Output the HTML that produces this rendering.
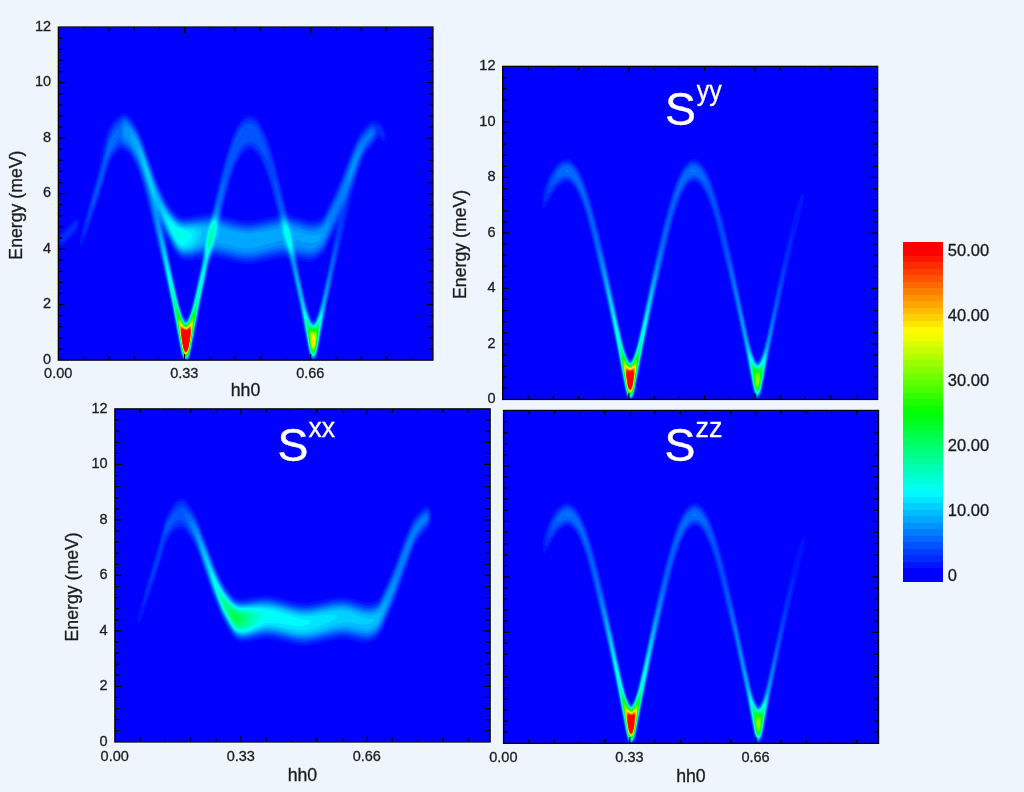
<!DOCTYPE html>
<html lang="en"><head><meta charset="utf-8"><title>Spin-wave spectra S(hh0, E)</title>
<style>html,body{margin:0;padding:0;background:#eef5fc;overflow:hidden}svg{display:block}text{font-family:"Liberation Sans", Arial, Helvetica, sans-serif}.t,.a,.c{fill:#1c1c1c;stroke:#1c1c1c;stroke-width:.3px}.t{font-size:14.5px}.c{font-size:16.5px}.a{font-size:17.7px}.S{font-size:46.3px;fill:#fff;stroke:#fff;stroke-width:.45px}.sup{font-size:28px;fill:#fff;stroke:#fff;stroke-width:.3px}</style></head>
<body><svg width="1024" height="792" viewBox="0 0 1024 792">
<defs><filter id="soft" x="-5%" y="-5%" width="110%" height="110%" color-interpolation-filters="sRGB"><feGaussianBlur stdDeviation="6"/></filter></defs>
<rect width="1024" height="792" fill="#eef5fc"/>
<g>
<clipPath id="c1"><rect x="0" y="0" width="3743" height="3328"/></clipPath>
<rect x="58.5" y="27.2" width="374.3" height="332.8" fill="#0000ff"/>
<g transform="translate(58.5 27.2) scale(.1)" clip-path="url(#c1)"><g filter="url(#soft)">
<path fill="#0015ff" d="M1238 3328h71l9-25l19-85l83-424l90-404l15-52l10-20l10-10l15-3l25 3l47 10l163 42l40 7l45 4l50-2l55-8l164-38l71-13l45-3l10 3l10 7l10 15l10 25l20 79l80 360l83 422l14 65l16 45h57l13-35l15-60l87-452l115-526l125-543l30-115l40-134l35-105l25-58l20-34l30-43l55-65l25-46l5-4l10 1l10 6l25 22l10 5l10-1l5-6l5-12l3-20v-20l-4-25l-5-20l-8-20l-13-25l-13-20l-15-16l-10-6l-25-6l-25-11h-10l-15 4l-20 12l-26 23l-41 45l-27 35l-32 55l-41 90l-46 110l-77 203l-40 95l-50 108l-70 140l-20 31l-10 11l-15 12l-20 10l-20 7l-20 4l-20 1l-25-2l-35-7l-100-30l-50-14l-15-7l-15-18l-10-22l-10-34l-57-243l-56-215l-29-105l-30-90l-41-100l-19-40l-20-35l-21-30l-17-20l-20-19l-20-12l-25-8h-25l-25 10l-25 18l-25 27l-24 34l-23 40l-26 55l-39 100l-35 110l-66 245l-67 281l-10 30l-10 19l-10 9l-10 4l-60 5l-120 20l-50 4h-30l-20-4l-20-10l-18-13l-27-28l-30-37l-25-34l-25-42l-40-80l-45-105l-137-384l-31-80l-21-45l-24-45l-24-40l-20-30l-23-27l-20-16l-20-10l-20-2l-20 7l-30 20l-25 21l-21 22l-33 45l-29 50l-25 60l-25 75l-14 65l-23 158l-20 96l-15 57l-78 264l-64 245l-9 45l-3 35l-1 30l4 20l6 10l5 1l10-9l20-38l23-59l134-400l41-130l42-151l20-52l15-26l25-34l25-28l20-16l15-7l10-1l15 3l20 8l21 14l24 25l25 37l25 47l20 45l25 66l20 61l25 86l60 235l130 543l90 407l88 448l10 40zM1270 2904l-5-3l-10-15l-15-36l-15-48l-20-77l-65-295l-35-174l-14-83l1-15l3-3l15 19l38 64l27 40l25 28l25 18l25 10l25 4l50-4l80-16l10 2l5 10v25l-10 58l-60 275l-20 84l-20 68l-15 39l-10 18l-5 5l-5 3zM1860 1933l-39-5l-46-9l-111-31l-9-5l-8-10l-3-10v-20l6-36l10-42l50-189l35-110l35-89l35-69l20-30l15-18l20-17l15-9l15-4l15-1l18 4l17 9l15 12l15 16l20 28l15 24l35 73l40 108l35 116l45 174l8 40l1 25l-4 15l-5 6l-5 4l-16 5l-129 30l-53 10l-57 6zM2545 2919l-10-8l-15-27l-15-41l-20-70l-80-364l-6-41l1-25l5-9l10-1l70 13l25 2l20-1l30-8l30-17l40-33l27-31l20-35l48-99l10-18l10-13l5 3v17l-10 61l-50 243l-75 334l-20 73l-20 58l-15 28l-10 8zM24 2183l11-1l10-5l20-15l25-22l45-47l35-40l15-21l13-29l3-20l2-20l-2-20l-4-15l-5-10l-7-6h-10l-15 11l-60 66l-35 33l-36 31l-14 16l-7 14l-4 15l-3 20v20l3 20l6 14l5 6z"/>
<path fill="#002aff" d="M1245 3328h57l16-45l14-65l83-428l80-367l15-64l10-34l10-23l10-14l5-4l10-4l25 1l56 12l159 41l50 8l45 3l45-3l45-6l190-44l50-9l35-2h10l10 4l15 14l15 30l15 51l90 408l82 425l16 65l10 30l11 20h35l9-15l10-25l15-60l92-481l193-914l22-95l20-76l45-150l40-123l25-68l25-52l20-33l25-35l55-65l10-18l15-35l5-7l5-2l10 2l35 23l5 1l5-2l2-5l2-20l-7-30l-14-30l-18-23l-10-6l-20-3l-30-20l-10-1l-15 4l-20 13l-25 23l-40 44l-25 32l-17 27l-17 30l-38 85l-45 110l-78 205l-40 95l-50 107l-75 148l-15 23l-10 12l-25 19l-35 14l-20 3l-20 1l-30-3l-35-7l-145-43l-10-4l-10-8l-15-20l-14-32l-11-38l-64-262l-53-205l-27-90l-26-80l-38-95l-37-71l-20-31l-19-23l-16-15l-20-13l-20-8l-25-1l-25 8l-25 17l-25 27l-22 30l-26 45l-24 50l-39 100l-36 115l-61 225l-67 275l-10 35l-15 31l-15 16l-15 5l-60 6l-116 17l-49 4l-30-1l-20-4l-20-9l-20-15l-25-25l-35-43l-25-35l-25-41l-45-91l-40-94l-30-81l-103-295l-29-75l-20-45l-21-40l-23-40l-24-36l-20-25l-20-19l-20-12l-20-4l-15 4l-15 9l-35 27l-26 26l-26 35l-26 45l-20 45l-14 45l-11 45l-32 155l-40 166l-78 269l-52 200l-20 95l-3 30l1 15l2 4l5-1l15-23l15-35l25-68l102-297l45-145l38-138l10-31l15-37l15-27l25-35l25-28l22-19l13-7l10-1l10 2l30 13l25 16l25 28l25 37l25 47l25 56l20 53l25 76l25 87l60 239l125 534l90 413l82 427l15 60zM1270 2918l-7-5l-8-11l-15-34l-20-61l-20-78l-70-316l-45-219l-12-71l-1-15l3-11l5 3l10 13l58 100l26 40l21 25l25 20l25 12l30 5l50-4l90-20l10 4l5 10v33l-10 59l-65 296l-20 83l-20 69l-15 40l-15 27l-8 6zM1865 1958l-42-5l-48-10l-125-35l-10-8l-5-8l-3-14l-1-20l4-29l10-46l55-214l35-113l35-91l35-72l20-32l18-23l17-16l20-14l15-5l20-2l15 3l20 10l20 15l17 19l18 24l20 34l35 74l38 103l37 125l50 197l7 38l1 25l-3 20l-5 10l-10 8l-10 3l-145 34l-50 9l-55 6zM2545 2934l-10-6l-5-6l-15-30l-15-42l-20-70l-20-85l-65-298l-7-49l1-30l1-5l5-7l10-3l80 16l30 2l20-2l15-3l20-9l40-28l30-28l20-28l90-183l15-25l5-6l5-2l4 11l-1 15l-13 75l-70 323l-75 328l-25 89l-20 53l-15 26l-8 6zM25 2148l5 2l10-1l10-6l20-16l45-43l50-58l14-23l6-18l1-22l-6-14l-5-2l-5 1l-10 7l-55 60l-75 69l-10 19l-3 15l2 20z"/>
<path fill="#003eff" d="M1251 3328h45l7-15l9-25l20-85l83-432l90-413l10-36l15-36l15-19l10-5l10-2l25 3l40 9l165 43l45 7l40 3l45-2l55-7l180-42l65-11l25-2l15 1l10 4l10 9l15 24l10 24l20 74l85 393l77 403l16 70l13 40l13 20l8 5h9l9-6l9-14l9-20l9-30l10-45l78-416l52-249l68-342l25-136l23-152l18-80l29-105l35-115l70-215l35-96l20-43l20-35l35-49l49-57l15-30l10-35l3-30l-4-15l-5-10l-13-17l-10-5l-15 1l-15 7l-20 17l-25 25l-45 53l-15 21l-17 28l-29 60l-36 85l-98 257l-40 96l-60 128l-60 119l-20 35l-20 25l-25 18l-35 13l-35 5l-30-2l-35-7l-150-45l-10-5l-10-8l-20-28l-14-31l-12-35l-64-254l-50-188l-35-120l-30-88l-35-86l-35-66l-15-23l-20-24l-18-16l-17-11l-20-6l-25 1l-25 10l-20 15l-20 21l-25 35l-20 35l-25 51l-35 88l-35 106l-65 235l-70 280l-15 44l-15 29l-15 16l-15 6l-60 5l-115 15l-50 4l-30-1l-20-4l-20-9l-21-15l-29-30l-35-43l-25-35l-25-43l-45-91l-40-94l-127-359l-35-90l-20-45l-21-40l-24-40l-20-30l-23-27l-20-18l-20-10l-15-2l-10 2l-14 10l-46 40l-20 22l-25 35l-20 35l-15 34l-13 39l-15 60l-32 146l-23 94l-31 115l-56 191l-25 95l-25 113l-2 31l2 3l5-6l15-32l75-205l60-187l47-168l20-55l13-26l15-24l20-28l20-23l15-15l15-11l15-5l10 3l45 23l20 15l25 28l25 39l30 57l25 58l25 69l30 98l30 110l30 123l120 522l100 462l87 450l11 45zM1265 2924l-5-5l-10-16l-15-36l-20-64l-20-78l-70-314l-55-264l-11-64l-1-20l2-10l5 1l10 13l68 121l27 43l25 31l25 21l30 12l30 4l25-2l30-5l85-20l10 3l5 8l3 15v15l-8 57l-75 340l-20 81l-20 66l-20 50l-10 14l-5 5l-5 2zM1840 1973l-78-15l-102-28l-18-7l-11-10l-6-14l-3-21l1-25l7-40l13-60l54-210l36-115l35-90l35-70l19-30l18-23l15-15l20-14l20-8l20-2l20 5l20 10l20 16l20 22l17 24l21 35l20 40l20 45l39 110l40 140l44 185l7 40v30l-3 20l-7 15l-8 8l-15 6l-150 34l-60 11l-60 5zM2545 2944l-5-2l-10-9l-15-28l-20-56l-20-70l-85-379l-10-65l-1-22l3-15l3-9l5-5l10-2l85 17l30 2l20-2l15-3l20-9l20-13l25-20l25-24l20-30l110-228l15-24l10-11l5-2l5 4l3 14l-1 20l-5 30l-62 255l-115 501l-25 89l-20 55l-10 21l-10 14l-8 5z"/>
<path fill="#0053ff" d="M1256 3328h35l11-20l10-30l16-65l82-432l95-440l15-47l15-29l15-16l10-4l10-1l60 11l165 42l45 8l40 2l50-2l50-7l175-41l65-12l25-2l15 1l10 4l10 7l15 21l15 31l10 29l11 42l84 394l78 411l15 70l13 40l12 20l7 6l5 2h5l10-7l10-16l8-20l10-35l9-45l73-395l51-250l44-232l20-123l3-35v-15l-3-4l-10 22l-25 85l-115 484l-25 93l-20 61l-15 35l-15 22l-10 6h-5l-10-5l-10-13l-10-19l-20-54l-20-68l-20-82l-71-318l-10-65l-1-25l2-20l7-15l3-3l10-3l65 14l35 6h30l25-5l30-15l33-24l22-22l20-28l18-35l107-229l20-36l33-45l17-36l21-59l124-370l23-65l21-50l16-30l22-35l30-40l39-45l14-24l7-26l1-25l-4-20l-9-15l-10-4l-10 1l-15 8l-20 16l-70 80l-15 20l-15 25l-25 51l-31 73l-35 90l-71 190l-51 120l-45 95l-72 139l-20 32l-20 21l-25 15l-30 11l-30 4l-30-1l-52-11l-128-38l-15-6l-15-13l-15-19l-12-19l-15-30l-9-25l-69-236l-25-76l-15-39v17l58 279l8 50l2 30v25l-4 25l-8 20l-7 10l-14 7l-143 33l-82 15l-65 5l-50-4l-50-9l-65-16l-85-25l-10-7l-10-17l-4-22l-1-30l9-60l39-170l29-115l30-100l31-85l30-65l28-50l19-25l15-17l15-13l15-9l15-6l15-3h15l20 5l30 16l29 27l32 40l32 50l47 86v-8l-5-24l-25-96l-20-64l-25-68l-20-44l-20-36l-22-31l-23-22l-14-8l-11-4l-20-2l-24 6l-21 13l-20 19l-25 33l-20 33l-25 50l-35 85l-35 103l-65 225l-76 289l-17 45l-17 31l-15 16l-10 6l-10 2l-60 5l-115 14l-45 3l-30-2l-23-5l-20-10l-20-15l-27-27l-35-43l-25-34l-25-42l-50-100l-40-94l-123-350l-35-90l-20-45l-21-40l-26-43l-20-29l-20-24l-20-18l-20-10l-15-1l-10 3l-8 7l-27 30l-25 23l-15 17l-25 35l-20 35l-15 34l-10 31l-15 56l-48 209l-92 331l-10 47l-1 12l1 10l10-17l10-23l35-95l45-143l42-152l15-45l13-30l12-25l18-30l40-52l15-16l15-12l10-3l10 3l25 18l30 16l20 17l25 30l28 44l28 55l26 60l28 81l30 98l27 101l31 125l132 595l85 399l87 451l10 40zM1270 2934l-9-6l-6-8l-15-31l-20-58l-25-93l-70-310l-65-306l-10-53l-5-36v-15l5-6l5 4l10 15l66 122l33 55l26 35l25 23l15 9l15 6l30 4l25-1l30-5l90-23h10l5 2l6 10l2 15v20l-8 60l-90 402l-25 87l-20 53l-15 23l-7 5z"/>
<path fill="#0068ff" d="M1261 3328h25l13-20l12-35l17-70l82-435l90-422l15-51l15-33l10-16l10-10l10-6l10-2l20 2l35 7l170 43l45 7l40 3l49-2l51-7l175-42l70-12l20-2l15 2l10 6l10 9l15 21l15 30l12 35l13 50l85 402l72 388l16 75l14 45l13 20l10 6l10-3l5-5l10-16l8-22l20-85l72-399l55-278l25-150l5-38l1-25l-1-3l-5 8l-15 48l-55 215l-44 187l-26 92l-20 58l-15 34l-15 21l-9 5l-6 1l-10-5l-5-6l-10-15l-10-21l-20-56l-25-89l-88-389l-9-60v-25l2-25l5-15l4-5l6-4l5-1l70 15l33 5l32 1l25-5l25-12l33-24l22-20l20-27l20-38l120-266l20-38l30-51l20-43l65-182l73-215l40-100l15-30l19-30l30-40l38-43l11-17l5-15l2-20l-3-15l-6-10l-9-4l-10 2l-15 10l-15 13l-75 87l-25 39l-25 51l-30 72l-35 90l-67 185l-51 120l-48 100l-71 135l-23 34l-20 19l-25 15l-25 9l-25 5l-30 1l-30-5l-30-7l-130-39l-15-7l-15-14l-20-26l-35-56l-10-11l-5-1l-5 8l-12 55l-8 26l-10 17l-10 7l-15 5l-190 41l-55 7l-50 1l-40-3l-50-9l-135-36l-25-10l-6-6l-6-10l-6-20l-3-20v-50l8-55l43-223l4-37l-1-5l-3-1l-10 20l-20 57l-58 199l-15 45l-22 47l-15 22l-10 10l-10 7l-15 4l-65 4l-115 12l-40 2l-30-3l-20-5l-20-10l-19-15l-21-20l-25-29l-45-61l-35-60l-39-80l-26-59l-25-64l-125-357l-29-70l-26-52l-25-42l-20-30l-20-25l-15-15l-20-14l-15-6l-15 3l-10 9l-11 17l-19 41l-10 12l-20 15l-20 21l-25 36l-15 29l-15 42l-15 57l-15 81v20l5-5l37-74l31-50l47-70l10-10l5-1l10 8l25 36l10 9l25 14l15 12l30 35l21 32l25 45l20 40l19 45l30 87l35 113l27 100l26 105l207 972l88 463l15 60l10 25zM1270 2939l-9-6l-6-7l-10-18l-10-24l-20-61l-20-75l-75-329l-75-346l-12-70l-1-20l3-11l5 1l10 13l63 122l49 85l28 39l25 23l15 8l15 6l30 4l25-1l30-6l95-26h10l4 3l6 10l3 20v20l-8 61l-20 95l-75 326l-25 85l-20 51l-15 23l-5 4z"/>
<path fill="#007dff" d="M1261 3323l8 5h9l7-4l5-6l13-25l14-50l88-461l85-407l15-61l15-42l20-37l15-17l10-6l10-2l20 2l35 8l165 42l40 6l40 3l50-2l50-7l50-10l130-33l70-13l20-1l10 3l10 5l10 10l20 29l16 31l15 40l12 45l41 205l42 195l76 415l15 65l11 35l12 19l10 6l10-3l5-5l8-12l9-25l16-65l76-425l41-212l10-63l5-55l-5 1l-20 62l-25 94l-38 158l-17 60l-20 61l-15 39l-15 29l-15 15l-5 2l-10-1l-10-8l-10-15l-20-46l-25-78l-20-78l-72-310l-15-70l-4-35l-2-30l2-30l4-20l7-16l10-6l10 1l60 14l35 6l35 1l25-5l25-11l30-22l24-22l16-22l25-50l133-313l20-40l32-52l20-44l50-133l78-226l39-100l25-45l65-80l6-15v-5l-3-6l-5-2l-10 4l-20 18l-42 51l-38 39l-25 40l-25 54l-35 87l-87 250l-36 90l-50 100l-84 155l-23 34l-20 19l-15 10l-25 11l-25 8l-20 3h-20l-25-3l-55-13l-105-32l-20-9l-20-20l-45-59l-10-8l-5-1l-5 2l-8 13l-22 59l-10 12l-10 6l-205 44l-55 7l-50 2l-50-5l-55-11l-130-36l-20-9l-5-6l-7-13l-9-35l-5-50l1-65l-3-10l-2-2l-10 18l-26 59l-22 40l-22 31l-10 9l-10 6l-15 3l-70 3l-105 10l-45 1l-25-3l-20-5l-20-10l-20-15l-42-45l-48-63l-34-57l-43-85l-24-55l-24-62l-73-213l-52-144l-30-72l-25-49l-40-65l-20-26l-15-15l-20-16l-15-7h-10l-10 6l-6 8l-6 15l-6 40l2 50l2 20l6 20l7 15l6 7l40 30l28 33l35 55l33 65l25 60l29 84l40 131l34 120l29 125l62 312l130 624l87 459l17 60l9 20zM1270 2944l-9-6l-6-7l-10-17l-10-24l-25-76l-20-77l-161-714l-7-40l-3-30l1-17l5-4l10 9l10 17l54 110l58 105l31 45l12 13l15 13l15 8l20 7l20 3l20-1l50-9l80-26l15-2l5 1l5 5l5 13l3 25l-1 25l-10 65l-92 406l-25 88l-20 54l-10 20l-10 13l-6 4z"/>
<path fill="#0092ff" d="M1267 3323l8 2l5-2l5-4l8-11l13-30l11-40l88-466l42-199l38-189l15-66l20-55l20-39l15-20l10-9l10-4l10-1l55 10l151 38l44 7l40 3l50-2l53-8l45-10l142-37l55-11l15-1l10 2l10 6l10 9l20 28l22 39l16 35l15 45l9 40l33 176l46 219l81 445l11 40l12 27l10 11l10 2l5-3l10-13l8-19l9-30l11-50l74-430l28-145l5-30l4-40l-4-4l-10 28l-54 206l-21 70l-20 58l-15 34l-15 24l-11 9l-9 1l-5-1l-10-8l-5-7l-20-40l-25-71l-26-94l-90-385l-7-60l3-61l5-27l4-12l6-8l5-2l15 1l55 13l30 6l45 2l20-3l20-7l20-11l20-15l15-14l15-18l20-37l40-108l10-34l3-20l-3-4l-5 3l-43 51l-17 13l-15 9l-25 11l-30 10l-25 3l-25-1l-60-13l-120-37l-10-7l-15-15l-45-60l-10-8l-10-3l-10 6l-5 7l-25 62l-10 10l-10 5l-170 36l-50 9l-55 5l-50-1l-45-6l-55-11l-120-34l-20-8l-10-11l-5-11l-8-25l-12-62l-5-14l-5-5l-5 2l-10 10l-40 61l-15 20l-10 10l-15 7l-80 1l-135 8l-35-4l-30-9l-15-9l-20-16l-38-40l-43-55l-37-60l-49-95l-30-70l-118-339l-30-78l-25-57l-35-63l-20-30l-20-25l-20-20l-15-11l-15-7h-10l-5 4l-5 8l-5 23v35l6 35l9 18l35 34l30 41l43 77l31 65l31 85l46 145l34 115l37 135l20 90l23 148l25 135l77 387l48 226l82 434l10 45l9 25l9 18zM1270 2948l-9-5l-6-7l-10-17l-10-23l-20-59l-25-91l-115-504l-66-274l-6-35l-1-20l2-15l6-8l5 2l5 4l15 25l60 127l59 110l31 46l25 26l15 9l20 8l20 3h25l25-5l28-7l92-33l10 3l5 7l4 13l2 25v30l-10 70l-96 419l-25 86l-20 54l-10 19l-10 12l-5 4zM2890 1563l10-15l10-21l30-79l55-167l10-37v-11l-5 2l-5 7l-20 38l-20 47l-25 67l-20 62l-15 55l-7 37v10z"/>
<path fill="#00a7ff" d="M1265 3318l5 3l10-2l11-11l12-25l14-50l83-445l47-225l36-185l14-60l13-41l20-45l25-42l20-24l15-7h15l50 10l141 34l49 7h45l55-6l50-10l58-16l137-42l25-5h10l10 6l10 11l25 38l42 77l33 72l5 2l3-74l7-88l5-30l5-11l5-3h10l65 18l40 7l30 1l35-4l28-10l22-16l10-11l7-13l6-15l1-10l-4-9l-10-2l-60 13l-15 1l-20-2l-60-13l-100-32l-15-9l-10-11l-45-66l-15-19l-10-9l-10-4l-10 5l-5 6l-8 16l-21 60l-6 9l-10 6l-200 38l-75 8l-55-1l-60-9l-75-19l-90-26l-15-6l-10-9l-5-10l-23-86l-7-15l-5-4h-5l-5 3l-10 10l-40 57l-15 19l-10 8l-10 4l-85-3l-130 4l-35-5l-30-12l-20-13l-20-18l-53-60l-39-55l-40-70l-31-60l-25-60l-97-282l-35-94l-25-60l-25-50l-25-39l-25-28l-10-7l-10-1l-4 6v10l7 30l16 40l57 125l25 65l72 225l57 189l20 58l10 19l5 5l20 11l15 21l75 165l45 85l30 51l20 27l20 20l25 14l25 6l30-1l42-10l40-15l63-29h10l5 4l5 11l4 29l1 35l-2 35l-5 35l-17 80l-76 327l-25 93l-25 72l-10 21l-10 16l-10 9l-10 1l-7-4l-8-8l-15-27l-15-39l-20-64l-20-77l-120-516l-35-130l-15-43l-5-6l-2 15l2 24l25 154l63 322l47 226l78 419l9 45l10 35l11 25zM2550 3298l5-3l12-17l11-30l9-40l58-331l30-191l2-33l-2-1l-5 16l-23 85l-25 80l-32 87l-14 28l-11 16l-12 9l-8 1l-5-1l-12-10l-13-21l-15-34l-21-60l-27-95l-57-237l-20-71l-5-15l-4-2l-1-7l5 53l10 62l47 232l76 425l10 45l9 30l10 20l8 8z"/>
<path fill="#00bbff" d="M1263 3313l7 4h5l10-5l5-6l13-28l10-35l14-70l73-395l46-220l36-190l14-60l12-35l17-40l83-160l3-10v-20l-19-100l-7-26l-7-14l-8-6l-10 2l-20 23l-50 74l-10 10l-10 2l-42-10l-35-5l-38-2h-80l-35-3l-20-6l-20-8l-15-10l-20-16l-38-40l-44-55l-36-55l-49-85l-15-35l-16-40l-72-218l-45-121l-20-46l-20-39l-15-20l-5 1l1 13l9 35l130 421l30 87l15 31l25 28l15 25l60 143l20 45l50 96l30 49l25 31l20 16l25 9l25 3l40-7l46-17l35-20l54-38h5l5 6l3 12l6 60l-1 55l-6 50l-16 75l-81 345l-25 90l-20 59l-15 33l-12 18l-8 6l-5 2l-10-3l-5-4l-15-22l-15-34l-20-60l-25-92l-115-487l-25-88l-10-26l-5-2v20l5 41l15 91l49 258l51 248l73 397l19 80l10 25zM2543 3293h7l5-2l10-14l11-29l11-45l53-311l10-71l4-53l-4-2l-5 11l-43 121l-22 49l-10 16l-10 11l-10 4l-10-1l-11-9l-14-20l-15-33l-17-47l-31-100l-42-173l-10-36l-10-28v22l5 35l33 165l75 435l10 45l9 30l10 20zM2334 2288l6 5l5-15l5-75l-2-65l-11-75l-15-45l-26-50l-21-28l-10-7l-10-1l-5 2l-7 9l-11 30l-7 45l3 35l13 45l27 65l47 93z"/>
<path fill="#00d0ff" d="M1268 3313l7 1l5-2l9-9l6-10l11-30l11-45l83-449l41-196l37-200l11-50l19-60l55-125l25-80l6-40l-3-50l-5-25l-6-17l-5-9l-5-4l-5-2l-10 4l-10 10l-23 33l-24 45l-16 45l-9 50l-4 45l-3 145l-5 35l-8 45l-88 365l-20 77l-20 64l-15 40l-15 29l-9 10l-6 4l-10 1l-5-2l-15-16l-20-43l-20-59l-25-90l-110-457l-15-52l-10-23l-1 2l-1 10l2 30l15 93l39 212l46 224l77 421l10 45l10 30l10 20zM2541 3288l9 1l5-3l9-13l10-25l9-35l14-75l38-230l7-50l2-40l-1-5l-3-2l-10 21l-34 86l-21 43l-10 13l-10 7l-10 2l-5-2l-10-7l-10-13l-21-43l-31-85l-36-115l-2-10l-2 5l2 22l20 137l53 306l9 45l10 35l8 17zM2330 2265l5 2l5-10l3-24l1-30l-3-55l-14-85l-13-45l-19-40l-10-15l-10-11l-10-6h-5l-5 2l-9 10l-8 25l-2 35l5 35l17 60l20 55l27 58l15 27zM1231 2208l19 4l15 1l35-6l35-14l17-10l20-15l16-15l12-15l12-20l10-20l6-20l3-15l-1-15l-4-10l-16-15l-25-11l-40-6l-95-6l-30-8l-25-11l-30-23l-35-35l-43-50l-47-63l-15-14l-2 2l-1 5l3 15l20 64l30 80l35 77l40 76l30 48l25 29l15 11zM970 1722l5-1l-1-18l-14-53l-35-115l-45-133l-20-46l-5-8l-5-1v6l10 49l35 122l45 137l15 38z"/>
<path fill="#00e5ff" d="M1265 3308l10 3l10-6l5-6l12-26l10-35l15-75l72-395l46-230l38-210l19-60l51-120l14-45l15-55l5-40l-2-35l-3-20l-5-15l-7-10l-5-3l-5-1l-10 6l-16 18l-22 40l-15 40l-10 45l-11 65l-4 45l-3 110l-2 25l-9 45l-53 209l-39 166l-21 78l-20 63l-15 38l-15 29l-6 7l-9 7l-5 2l-10-3l-15-16l-15-29l-20-55l-31-106l-44-188l-55-216l-10-36l-10-24l-1 4l1 25l5 35l30 176l50 249l77 425l10 45l10 30l8 18zM2539 3283l6 3l5-1l10-9l11-23l11-40l16-85l28-175l9-66l2-39l-2-6l-5 5l-5 10l-32 76l-18 32l-10 13l-10 7l-10 2l-5-2l-15-12l-15-25l-22-50l-33-92l-5-11l-5-1l3 44l7 50l48 285l18 75l9 23zM2325 2243l5 2l5-8l3-19v-25l-5-55l-15-80l-12-40l-16-35l-15-18l-10-4l-5 1l-5 4l-5 8l-5 24v25l6 35l18 65l18 50l23 50zM1229 2193l26 4l30-5l32-14l25-20l19-25l16-35l4-15l1-15l-1-10l-4-10l-12-12l-20-10l-25-5l-70-9l-25-7l-25-10l-20-13l-20-16l-85-87l-10-8l-5 1l-1 11l5 20l16 50l25 58l35 71l25 45l25 36l20 20z"/>
<path fill="#00faff" d="M1271 3308l9-2l5-4l10-15l12-34l10-45l77-425l51-259l20-135v-23l-15 47l-25 90l-62 255l-28 95l-20 56l-15 32l-13 17l-12 6l-8-1l-7-4l-15-21l-15-33l-15-42l-31-105l-64-261l-35-120l-2 6l2 32l20 128l46 230l77 430l10 45l10 30l12 22l5 5zM2538 3278l7 4h5l10-10l11-24l10-40l16-85l28-180l5-45v-28l-5 1l-5 8l-27 59l-18 32l-15 16l-5 3l-10 1l-7-2l-8-6l-17-24l-19-40l-29-73l-5-10l-5-6l-1 24l6 51l43 259l18 80l9 24zM1475 2313l5-3l59-137l18-55l16-60l7-45v-35l-4-20l-4-10l-7-9l-5-2l-5 1l-10 6l-10 13l-10 16l-17 40l-11 40l-13 70l-6 50zM2318 2218l7 4l3-4l3-10l1-20l-5-50l-12-65l-11-40l-14-35l-10-14l-5-4l-5-2l-5 1l-8 9l-4 20l2 25l4 25l16 60l15 45l15 36zM1221 2173l19 4l24-4l22-10l19-15l16-20l12-25l4-20l-1-10l-3-10l-7-10l-16-10l-65-18l-45-18l-30-20l-60-49l-10-6l-5-1l-3 7v5l8 30l20 48l30 62l20 36l20 28l15 16z"/>
<path fill="#00ffef" d="M1266 3303l9 3l5-2l10-11l13-30l10-40l81-450l41-207l10-62l5-42v-15l-5 5l-5 13l-15 50l-25 96l-33 137l-32 110l-20 55l-14 30l-11 15l-5 5l-10 4h-5l-10-6l-14-18l-16-34l-15-41l-32-105l-38-159l-25-95l-20-61l-2 5l2 39l10 64l42 212l75 425l11 50l9 30l8 17zM2544 3278h6l5-3l10-16l9-26l8-35l34-205l9-75v-22l-5-3l-5 7l-27 53l-18 28l-15 12l-10 1l-15-8l-15-19l-13-24l-37-83l-5 3v5l5 54l42 256l10 45l8 28l10 20zM1485 2272l5-4l5-8l31-67l18-50l19-70l10-45l2-35l-5-29l-5-9l-5-4l-5-1l-10 5l-15 20l-15 33l-11 40l-15 75l-7 50l-2 60v20zM2314 2193l6 1l2-6v-25l-7-52l-10-47l-15-46l-10-14l-5-3l-5 1l-5 10l-1 11l1 17l5 27l25 89l10 23zM1217 2148l13 2l10-3l15-9l9-10l11-15l6-15l1-15l-3-10l-9-10l-22-15l-53-27l-45-28l-15-5l-5 7l3 18l12 34l15 31l15 27l15 21l15 15z"/>
<path fill="#00ffdb" d="M1274 3303l6-2l5-4l11-19l12-35l10-45l75-430l37-190l6-35l3-40l-4-3l-15 45l-54 213l-36 119l-15 39l-15 31l-12 16l-13 7l-9-2l-6-4l-15-20l-15-31l-15-41l-32-104l-53-211l-10-34l-10-26l-2 6v15l7 50l37 195l76 430l10 45l12 39l10 18l5 5zM2541 3273l4 2l5-1l10-10l10-23l9-33l13-70l19-125l9-70v-27l-5-3l-5 6l-25 44l-15 22l-15 11l-10 2l-15-8l-14-17l-46-89l-3 4l-1 10l4 43l33 212l10 50l9 35l8 21zM1490 2247l5-2l5-7l20-41l18-49l19-70l9-45l3-30l-4-27l-5-9l-5-3h-5l-5 3l-15 20l-11 26l-10 35l-15 70l-8 50l-2 45l1 21zM2300 2128l4-5l-4-29l-10-35l-5-7v22l5 22zM1201 2098l9 4l5-1l5-4l4-9l-3-15l-8-10l-13-9l-15-6l-5 2l-2 8l2 10l10 18z"/>
<path fill="#00ffc6" d="M1266 3298l9 3l5-2l10-12l12-29l11-40l54-305l26-155l27-141l5-30l3-34l-3-6l-20 65l-42 166l-37 115l-15 35l-11 22l-15 18l-10 4h-5l-8-4l-12-13l-15-28l-16-39l-36-115l-43-167l-10-35l-10-27l-1 19l6 44l28 146l75 435l10 45l8 30l9 21zM2539 3268l6 4l5-1l10-10l10-23l8-30l14-75l15-105l8-62v-33v-2l-5-1l-5 6l-23 37l-17 20l-10 7l-10 1l-10-4l-15-15l-13-19l-27-52l-5-6l-2 3l-2 10l4 44l29 186l18 85l8 22zM1495 2226l5-3l10-16l10-23l15-44l15-58l10-49l2-25l-4-20l-3-6l-5-2l-5 1l-5 4l-10 16l-10 26l-10 37l-12 59l-7 45l-2 35l1 13z"/>
<path fill="#00ffb1" d="M1271 3298l9-2l5-4l10-17l12-37l10-45l93-540l5-35v-20l-10 28l-43 162l-35 105l-12 30l-15 30l-13 15l-12 6l-10-2l-15-14l-11-20l-16-35l-35-105l-43-160l-10-33l-3-2l-2-6v12l5 35l97 559l10 45l9 25l9 17l5 5zM2545 3268h5l5-4l7-11l8-21l9-34l13-75l14-95l5-50v-30l-1-4l-5 1l-27 38l-13 14l-10 6l-10 1l-10-3l-15-15l-35-57l-5-6l-3 5l-1 10l4 45l28 185l17 70l10 22zM1497 2198l3 5l5-4l10-18l10-26l15-56l10-48l3-23l-2-20l-1-4l-5-3l-5 2l-10 16l-15 48l-16 81l-4 35z"/>
<path fill="#00ff9c" d="M1265 3293l10 3l5-2l10-12l12-29l10-40l58-330l30-199v-16l-2 10l-3 3l-42 142l-32 90l-14 30l-12 19l-10 10l-10 4l-10-2l-10-8l-10-14l-15-30l-28-74l-30-95l-22-77l-2 2l2 29l25 166l53 305l10 50l8 30l9 21zM2541 3263l4 2l5-1l10-11l8-20l8-30l12-60l14-95l6-55v-30l-3-6l-5 2l-32 39l-13 9l-10 1l-10-4l-13-11l-37-53l-4 3l-1 4l2 36l25 170l10 50l8 30l8 20zM1506 2163l4 4l5-9l15-51l8-49v-10l-3-6l-5 8l-5 13l-10 36l-8 44z"/>
<path fill="#00ff87" d="M1269 3293l6 1l5-2l11-14l12-30l9-40l58-333l15-115v-22l-10 24l-41 121l-19 46l-20 36l-10 10l-10 4l-10-2l-10-8l-10-14l-10-19l-22-53l-48-139l-3 4l3 42l15 103l52 305l9 40l9 27l10 20zM2539 3258l6 4l5-1l8-8l7-15l9-30l12-65l12-80l7-60v-28l-5-7l-5 3l-30 33l-10 6l-10 1l-10-3l-10-8l-35-46l-5 1l-1 3l1 30l18 135l19 95l8 25z"/>
<path fill="#00ff72" d="M1265 3288l5 3l5 1l10-7l5-8l12-29l10-40l15-85l43-258l8-72v-10l-3-7l-10 23l-38 104l-17 40l-10 17l-10 13l-7 5l-8 3l-10-2l-8-6l-17-25l-21-45l-39-109l-10-20l-1 4l1 34l10 76l48 285l9 45l10 35l8 21zM2544 3258h6l10-12l9-23l7-30l11-60l12-85l4-45l-2-20l-1-3l-5-1l-30 29l-10 6l-10 1l-10-4l-10-8l-25-31l-5-5l-5-1l-3 17l3 40l22 145l8 39l8 26l7 17z"/>
<path fill="#00ff5e" d="M1268 3288l7 2l5-2l10-13l11-27l11-45l53-313l8-72v-15l-3-4l-10 21l-33 88l-17 37l-18 28l-7 6l-10 4h-5l-10-5l-10-11l-10-16l-22-48l-33-88l-10-18l-1 6l1 36l9 69l48 280l10 45l7 25l11 23zM2541 3253l4 2h5l7-7l8-17l8-28l10-50l10-70l6-55l1-30l-5-10l-5 1l-25 23l-10 5l-10 1l-15-7l-30-32l-5-3l-5 11l1 21l4 45l13 90l17 78l8 22z"/>
<path fill="#00ff49" d="M1264 3283l6 4l5 1l5-2l7-8l11-25l11-40l19-100l37-233l5-52l-1-5l-4-5l-55 130l-10 17l-10 12l-9 6l-6 2l-10-2l-5-3l-10-11l-8-11l-15-30l-37-93l-10-18l-2 6l1 30l6 51l43 259l10 50l9 35l8 22zM2539 3248l6 4l5-1l5-4l10-19l7-25l10-55l10-70l5-50l-1-25l-1-4l-5-2l-30 21l-15 3l-15-6l-30-29l-5 2l-2 25l12 100l18 95l7 24z"/>
<path fill="#00ff34" d="M1266 3283l9 3l5-2l9-11l10-25l9-35l15-75l32-200l10-74v-30l-5 2l-5 10l-32 77l-17 35l-16 21l-5 4l-10 4l-5-1l-10-4l-16-19l-20-40l-34-81l-5-8l-3 4v30l8 60l42 255l17 70l9 20zM2543 3248h7l5-4l5-9l13-42l17-110l5-45l-1-25l-4-8h-5l-25 17l-15 3l-15-6l-25-23l-5-1l-4 13v25l16 120l8 40l8 30l7 16z"/>
<path fill="#00ff1f" d="M1269 3283l6 1l5-2l10-14l11-30l11-45l43-261l7-59v-15l-2-11l-10 16l-28 65l-17 34l-15 19l-10 6l-5 2l-6-1l-9-4l-15-17l-18-34l-32-74l-5-9l-5-1v29l5 43l43 262l10 45l7 25l10 21zM2540 3243l5 3l5-1l5-5l8-17l8-25l9-50l7-50l5-45v-30l-2-8l-5-3l-30 16l-15-1l-10-5l-25-19l-5 5l-2 20l2 30l9 65l16 85l9 25z"/>
<path fill="#00ff0a" d="M1265 3278l5 4h5l5-2l6-7l12-25l10-40l19-105l28-180l5-50l-1-5l-4-6l-50 102l-15 19l-7 5l-8 2l-10-1l-5-3l-15-17l-17-31l-28-62l-10-15l-2 7l1 30l6 49l37 231l16 65l7 20zM2539 3238l6 5l5-1l5-5l7-14l7-25l16-93l5-47v-25l-5-14h-5l-25 12l-10 1l-15-6l-20-14h-5l-4 11v15l9 86l15 80l6 19z"/>
<path fill="#0aff00" d="M1267 3278l8 2l5-2l10-14l8-21l9-35l15-80l28-177l6-53l-1-24l-5 3l-5 8l-27 58l-14 25l-14 17l-15 7h-5l-10-4l-14-15l-17-30l-29-61l-5-7l-4 3v25l8 65l34 210l17 70l10 22zM2543 3238h7l5-5l7-15l8-28l15-96l3-36l-1-20l-2-9l-5-4l-25 10l-10 1l-10-3l-25-15l-5 5l-2 20l2 32l7 58l15 75l8 21z"/>
<path fill="#1fff00" d="M1275 3278l5-2l5-5l7-13l10-30l9-40l16-95l23-150l4-45l-2-10l-2-3l-10 15l-23 48l-15 25l-12 14l-15 7l-8-1l-7-4l-12-11l-15-25l-33-65l-5-3l-1 3v30l6 50l22 145l15 80l16 60l7 15l5 7zM2541 3233l4 3l5-1l5-5l6-12l7-25l14-85l4-40l-1-25l-5-10l-5-1l-20 7l-10 1l-10-3l-20-11h-5l-5 12v15l9 85l13 65l8 22z"/>
<path fill="#34ff00" d="M1265 3273l5 3l5 1l5-3l6-6l11-25l9-35l16-85l23-150l6-50l-1-26l-5 1l-5 7l-27 53l-13 20l-15 14l-10 4l-12-3l-13-11l-13-19l-27-52l-10-15l-4 7l1 30l7 55l29 185l15 65l8 20zM2539 3228l6 5l5-1l5-6l11-28l8-40l6-43l3-37v-25l-3-12l-5-3l-20 5h-10l-30-11l-5 4l-2 12v25l4 35l13 81l7 24z"/>
<path fill="#49ff00" d="M1268 3273l7 2l5-2l10-15l9-25l9-35l15-85l22-149l3-46l-3-12l-10 13l-21 39l-14 22l-13 13l-12 5l-10-2l-15-12l-15-21l-30-55l-5-2l-1 2v25l5 50l29 185l17 73l10 24zM2543 3228h7l5-5l6-15l7-25l12-80l1-45l-1-5l-5-8l-5-1l-25 4l-25-9l-5 1l-4 8l-1 20l7 70l13 65l5 14z"/>
<path fill="#5eff00" d="M1273 3273l7-2l10-15l9-23l9-40l14-80l18-118l5-47v-30v-2l-5 1l-5 6l-25 45l-15 20l-10 8l-10 3l-9-1l-6-3l-12-12l-14-20l-24-42l-5-6l-3 3l-2 10l4 50l19 125l14 80l10 45l8 25l10 16zM2545 3225h5l5-6l10-28l11-63l3-35v-25l-4-15l-5-3l-25 2l-25-7l-5 4l-3 14l3 52l5 38l9 40l6 20z"/>
<path fill="#72ff00" d="M1266 3268l4 3l5 1l5-3l5-6l11-25l10-40l16-85l18-125l4-50l-1-10l-3-5l-5 5l-35 56l-15 14l-10 3l-10-1l-15-12l-11-15l-29-47l-5-2l-1 4l-1 25l5 45l25 165l16 70l7 20zM2540 3218l5 4l5-1l5-6l10-30l10-63l2-49l-2-9l-5-7l-25-1l-20-4l-6 1l-4 9v41l10 70l8 30z"/>
<path fill="#87ff00" d="M1268 3268l7 2l5-3l7-9l10-25l9-35l12-65l18-120l6-55l-2-26l-5 1l-5 7l-21 33l-14 19l-10 8l-10 3l-10-2l-10-6l-14-17l-26-41l-5-5l-5 5v23l5 47l27 171l7 35l9 30l7 16zM2540 3213l5 5l5-1l5-7l6-17l11-55l3-55l-3-15l-5-5l-42-5l-5 3l-3 12l1 40l10 65l7 25z"/>
<path fill="#9cff00" d="M1273 3268l7-2l10-15l8-23l8-35l26-160l7-60l1-26l-5-8l-5 5l-22 34l-13 15l-15 11h-10l-10-4l-10-8l-30-44l-5-6l-5-3l-3 14l3 45l13 95l14 85l9 40l9 29l10 17zM2544 3213h6l5-7l10-33l6-45l1-40l-2-13l-5-6l-35-5l-5 1l-5 9l-1 19l1 27l10 62l5 17l5 10z"/>
<path fill="#b1ff00" d="M1266 3263l4 3l5 1l5-3l5-6l10-22l9-33l14-75l17-120l3-45l-3-17l-5 2l-5 7l-30 40l-10 8l-10 3l-10-1l-10-7l-14-15l-21-31l-5-5l-5 1l-1 20l2 35l22 150l16 75l7 20zM2545 3209l5-1l4-5l7-20l8-50l1-40l-4-15l-6-4l-30-3l-5 4l-4 13l2 40l8 50l4 16l5 11z"/>
<path fill="#c6ff00" d="M1268 3263l7 2l5-3l9-14l9-25l9-40l15-90l13-96l1-39l-1-3l-5-2l-35 44l-10 8l-10 3l-10-2l-12-8l-33-42l-5-4l-4 6l-1 20l5 45l22 150l16 65l7 16zM2545 3205l5-2l5-7l5-16l6-37l2-40l-3-15l-5-6l-10-3l-15-2l-5 2l-5 8l-1 36l7 50l4 15l5 12z"/>
<path fill="#dbff00" d="M1273 3263l7-2l10-16l9-27l9-40l14-85l11-85l2-36l-2-9l-3-4l-5 3l-30 37l-10 8l-10 3l-10-2l-10-6l-35-42l-5-1l-2 4l-1 20l3 36l24 159l9 40l7 23l10 18zM2545 3200l5-2l5-8l5-17l5-34l1-26l-1-10l-5-12l-5-4l-15-3l-5 1l-5 4l-4 14v15l6 50l5 20z"/>
<path fill="#efff00" d="M1270 3261l5 1l5-3l5-6l10-24l8-31l14-75l13-97l3-43l-3-18l-5 1l-5 5l-27 32l-8 5l-10 3l-10-1l-10-6l-35-39l-5 3l-1 20l2 35l21 140l14 65l8 20zM2544 3193l6-1l8-19l4-25l1-30l-3-15l-3-5l-7-5l-10-1l-5 2l-5 9l-1 25l6 46l5 14z"/>
<path fill="#fffa00" d="M1268 3258l7 2l5-3l7-9l9-25l10-40l12-75l12-90l1-40l-1-6l-5-2l-30 33l-10 7l-10 3l-10-1l-10-6l-30-33l-5-3l-5 8v20l5 49l19 126l15 60l6 15zM2542 3183l3 4l5-2l5-11l5-36v-16l-4-14l-6-6l-5-1l-5 1l-5 4l-3 17l3 40z"/>
<path fill="#ffe500" d="M1271 3258h4l5-2l10-17l8-26l9-40l14-85l8-70l1-34l-5-9l-5 3l-29 30l-16 7l-10-2l-10-5l-30-32l-5-1l-3 8v20l3 40l22 140l13 52l9 18zM2545 3178l5-2l3-8l4-30l-2-17l-5-8l-5-1l-5 2l-2 4l-3 15l3 30l2 8z"/>
<path fill="#ffd000" d="M1270 3256l5 1l5-3l5-6l10-25l7-30l12-65l12-85l3-45l-1-10l-3-8l-5 1l-30 30l-15 6l-10-2l-10-6l-30-29l-5 3l-2 20l2 30l17 120l13 65l9 25zM2545 3166l5-4l2-14l-2-18l-5-4l-4 7l-1 5v14z"/>
<path fill="#ffbb00" d="M1268 3253l7 2l5-3l6-9l10-25l9-40l12-75l9-75l1-35l-2-7l-5-1l-30 27l-15 6l-10-1l-10-6l-25-24l-5-2l-5 6l-1 22l3 35l17 115l15 65l6 15z"/>
<path fill="#ffa700" d="M1270 3253l5 1l5-3l10-17l8-26l7-35l12-70l8-70l1-35l-2-5l-4-4l-5 3l-25 22l-15 6l-10-1l-10-6l-25-22l-5-2l-4 9v20l4 45l17 115l13 51l6 14z"/>
<path fill="#ff9200" d="M1270 3251l5 1l5-3l5-7l8-19l8-30l11-65l11-80l2-40l-2-10l-3-4l-5 1l-25 21l-15 6l-15-4l-30-24l-5 1l-2 8l-1 20l3 35l14 100l13 60l8 21z"/>
<path fill="#ff7d00" d="M1268 3248l7 2l5-3l5-6l9-23l7-30l11-60l9-75l3-35l-4-19l-5-1l-25 20l-15 5l-15-3l-30-22l-6 5l-1 20l2 28l15 107l14 65l6 14z"/>
<path fill="#ff6800" d="M1270 3248l5 1l5-3l8-13l8-25l9-40l10-70l7-60l-1-30l-1-4l-5-2l-25 18l-15 5l-15-3l-25-19l-5-1l-5 8l-1 23l4 35l15 105l12 50l6 15z"/>
<path fill="#ff5300" d="M1270 3247h5l5-3l5-7l8-19l7-30l11-60l9-76l1-34l-1-6l-5-6l-5 1l-23 16l-12 4l-15-4l-25-17h-5l-3 7l-2 15l2 30l13 95l13 60l7 21z"/>
<path fill="#ff3e00" d="M1268 3243l7 3l5-3l5-8l8-22l8-30l10-60l8-70l1-30l-5-13h-5l-25 16l-10 3l-15-4l-25-15l-5 1l-2 7l-1 20l2 35l13 90l13 56l5 13z"/>
<path fill="#ff2a00" d="M1270 3243l5 1l5-3l7-13l9-25l9-45l10-70l4-45l-2-25l-2-4l-5-1l-25 15l-10 2l-15-3l-25-14l-5 4l-1 6l-1 20l2 30l15 100l10 45l7 15z"/>
<path fill="#ff1500" d="M1270 3242h5l5-3l5-7l7-19l8-32l10-63l7-65l-1-30l-1-3l-5-3l-25 13l-10 2l-15-3l-20-12h-5l-5 8v38l12 90l12 60l6 15z"/>
<path fill="#ff0000" d="M1268 3238l7 3l5-4l5-7l8-22l7-30l10-62l6-53l-1-35l-5-8l-5 1l-20 11l-10 2l-15-3l-20-11l-5 1l-4 7l-1 15l2 30l12 90l11 50l5 13z"/>
<path fill="#ff0000" d="M1269 3238l6 1l5-3l5-8l7-20l8-35l10-62l5-48v-27l-5-12h-5l-20 10l-10 2l-10-1l-25-12l-5 2l-3 8l-1 20l2 30l12 83l11 47l6 15z"/>
</g></g>
<path d="M83.71 360v-4M83.71 27.2v4M108.92 360v-4M108.92 27.2v4M134.13 360v-4M134.13 27.2v4M159.34 360v-4M159.34 27.2v4M184.55 360v-6.1M184.55 27.2v6.1M209.76 360v-4M209.76 27.2v4M234.97 360v-4M234.97 27.2v4M260.18 360v-4M260.18 27.2v4M285.39 360v-4M285.39 27.2v4M310.6 360v-6.1M310.6 27.2v6.1M335.81 360v-4M335.81 27.2v4M361.02 360v-4M361.02 27.2v4M386.23 360v-4M386.23 27.2v4M411.44 360v-4M411.44 27.2v4M58.5 348.91h4M432.8 348.91h-4M58.5 337.81h4M432.8 337.81h-4M58.5 326.72h4M432.8 326.72h-4M58.5 315.63h4M432.8 315.63h-4M58.5 304.53h6.1M432.8 304.53h-6.1M58.5 293.44h4M432.8 293.44h-4M58.5 282.35h4M432.8 282.35h-4M58.5 271.26h4M432.8 271.26h-4M58.5 260.16h4M432.8 260.16h-4M58.5 249.07h6.1M432.8 249.07h-6.1M58.5 237.98h4M432.8 237.98h-4M58.5 226.88h4M432.8 226.88h-4M58.5 215.79h4M432.8 215.79h-4M58.5 204.7h4M432.8 204.7h-4M58.5 193.6h6.1M432.8 193.6h-6.1M58.5 182.51h4M432.8 182.51h-4M58.5 171.42h4M432.8 171.42h-4M58.5 160.33h4M432.8 160.33h-4M58.5 149.23h4M432.8 149.23h-4M58.5 138.14h6.1M432.8 138.14h-6.1M58.5 127.05h4M432.8 127.05h-4M58.5 115.95h4M432.8 115.95h-4M58.5 104.86h4M432.8 104.86h-4M58.5 93.77h4M432.8 93.77h-4M58.5 82.68h6.1M432.8 82.68h-6.1M58.5 71.58h4M432.8 71.58h-4M58.5 60.49h4M432.8 60.49h-4M58.5 49.4h4M432.8 49.4h-4M58.5 38.3h4M432.8 38.3h-4" stroke="#000" stroke-width="1.25" fill="none"/>
<rect x="58.35" y="27.05" width="374.6" height="333.1" fill="none" stroke="#000" stroke-width="1.3"/>
<text x="51.2" y="363.8" text-anchor="end" class="t">0</text>
<text x="51.2" y="308.33" text-anchor="end" class="t">2</text>
<text x="51.2" y="252.87" text-anchor="end" class="t">4</text>
<text x="51.2" y="197.4" text-anchor="end" class="t">6</text>
<text x="51.2" y="141.94" text-anchor="end" class="t">8</text>
<text x="51.2" y="86.48" text-anchor="end" class="t">10</text>
<text x="51.2" y="31.01" text-anchor="end" class="t">12</text>
<text transform="translate(21.9 205.1) rotate(-90)" text-anchor="middle" class="a">Energy (meV)</text>
<text x="58.2" y="377.7" text-anchor="middle" class="t">0.00</text>
<text x="184.25" y="377.7" text-anchor="middle" class="t">0.33</text>
<text x="310.3" y="377.7" text-anchor="middle" class="t">0.66</text>
<text x="245.55" y="396.1" text-anchor="middle" class="a">hh0</text>
</g>
<g>
<clipPath id="c2"><rect x="0" y="0" width="3747" height="3328"/></clipPath>
<rect x="502.8" y="66.5" width="374.7" height="332.8" fill="#0000ff"/>
<g transform="translate(502.8 66.5) scale(.1)" clip-path="url(#c2)"><g filter="url(#soft)">
<path fill="#0015ff" d="M1243 3328h61l8-20l11-35l14-65l28-148l55-274l90-424l160-681l30-117l25-87l25-77l25-67l25-56l20-38l25-37l20-21l20-13l14-5l11-1l11 1l14 5l22 15l23 24l25 38l20 39l25 57l25 67l25 77l25 87l30 117l155 655l95 444l55 272l27 143l14 65l11 35l13 25h43l15-30l15-55l87-446l90-434l155-694l70-295l6-36l4-35v-20l-5-16l-5-1l-10 11l-10 18l-15 37l-30 88l-42 143l-45 175l-65 270l-51 225l-62 293l-55 241l-20 71l-20 56l-15 28l-7 6l-8 2l-5-2l-10-12l-15-32l-20-60l-15-55l-60-270l-98-466l-85-370l-29-120l-41-150l-30-105l-30-90l-31-80l-33-70l-20-35l-17-25l-31-36l-15-12l-15-9l-15-6l-20-2l-20 2l-15 6l-15 9l-20 16l-20 22l-21 30l-21 35l-25 50l-25 60l-21 55l-44 140l-66 240l-74 315l-61 275l-67 325l-60 266l-20 70l-20 53l-10 18l-5 5l-5 2h-5l-10-10l-15-31l-15-42l-15-52l-60-264l-108-510l-84-365l-31-120l-50-180l-29-95l-30-85l-36-85l-36-65l-17-25l-19-23l-15-15l-20-14l-20-10l-15-3h-20l-20 5l-20 9l-20 13l-20 17l-19 21l-33 45l-30 55l-25 55l-25 70l-15 55l-6 45v60l5 40l3 8l5 4h5l10-9l15-23l65-116l25-37l20-26l15-16l20-16l15-10l20-8l20-2l20 3l16 8l18 15l16 19l20 29l15 27l20 43l30 75l35 107l30 107l30 121l155 661l90 425l87 441l11 45z"/>
<path fill="#002aff" d="M1252 3328h43l13-25l11-35l14-65l82-421l90-429l150-651l30-121l30-108l25-77l25-69l25-58l25-47l25-37l20-22l25-16l10-4l15-2l20 3l25 14l25 25l25 36l20 35l25 54l25 64l25 74l30 101l35 136l145 625l100 472l92 468l16 50l8 15l9 10l5 4l10 1l5-2l8-8l14-25l10-30l15-70l73-380l80-395l100-476l40-223l5-36l1-25l-1-5l-10 22l-20 60l-35 120l-30 113l-56 235l-79 356l-40 175l-20 78l-15 49l-20 52l-15 25l-7 5l-8 2l-5-2l-10-10l-15-30l-20-56l-20-71l-50-221l-72-342l-66-295l-85-350l-40-150l-35-120l-24-75l-26-70l-26-60l-23-45l-25-40l-23-28l-25-21l-25-12l-15-3h-15l-25 9l-15 9l-15 12l-29 34l-29 45l-30 60l-29 70l-26 75l-34 110l-41 145l-60 240l-70 300l-97 455l-60 264l-15 55l-20 58l-15 32l-10 11l-5 2l-8-2l-7-7l-15-28l-20-55l-20-72l-55-243l-62-295l-55-250l-75-315l-36-140l-45-160l-30-100l-34-95l-35-80l-21-40l-22-35l-25-30l-20-19l-20-12l-20-7l-20-1l-25 5l-25 13l-25 19l-25 27l-22 30l-24 40l-20 40l-18 45l-16 50l-12 45l-5 40l1 40l1 7l5 9h5l5-4l10-11l74-111l24-30l22-23l25-19l25-12l25-4l20 4l15 7l16 12l19 20l15 20l30 53l35 80l30 84l25 82l30 111l30 124l110 475l45 202l80 384l87 445l15 55z"/>
<path fill="#003eff" d="M1260 3328h27l3-3l13-22l15-45l15-70l77-400l95-457l139-618l31-125l28-105l25-80l27-75l25-60l25-50l25-39l25-29l25-18l10-4l15-3h10l15 3l25 13l25 23l29 39l28 50l24 55l25 65l26 75l34 120l37 145l127 568l105 500l77 402l16 70l9 30l8 17l10 13l10 5l10-3l10-10l9-17l9-25l15-65l77-410l120-605l30-170l2-40l-2-4l-15 38l-45 163l-30 125l-95 418l-25 99l-20 63l-20 50l-15 23l-7 5l-8 1l-5-1l-10-10l-15-27l-20-54l-20-68l-60-262l-73-339l-56-245l-96-386l-40-150l-30-104l-25-77l-25-68l-23-55l-22-43l-22-37l-24-30l-24-22l-25-13l-25-3l-15 3l-15 6l-26 19l-29 33l-27 42l-28 56l-27 64l-28 80l-36 115l-49 176l-87 349l-55 240l-83 384l-60 261l-20 67l-20 53l-15 24l-10 7l-5-1l-10-7l-15-27l-20-54l-15-50l-60-258l-63-294l-50-225l-101-415l-46-169l-40-136l-35-103l-36-87l-19-38l-20-34l-20-28l-20-23l-20-16l-20-10l-20-4l-20 2l-20 6l-25 15l-23 20l-22 26l-23 34l-22 40l-15 35l-15 45l-10 40l-4 30l3 20l6 4l10-6l10-11l67-82l18-18l20-16l25-13l20-6h25l20 6l15 9l20 18l30 40l32 60l34 80l26 75l24 80l26 95l29 120l154 685l85 411l82 424l10 40l10 30l8 17z"/>
<path fill="#0053ff" d="M1262 3323l8 5h5l5-1l10-9l14-25l13-45l88-450l95-462l137-628l31-130l29-105l26-85l25-70l25-60l28-55l27-40l27-30l25-17l25-8l25 3l15 6l15 10l28 26l29 40l26 45l30 65l30 75l29 85l36 125l30 125l47 241l91 424l79 385l88 455l14 55l8 18l10 14l10 5h5l10-7l12-20l10-30l16-70l72-390l46-235l44-235l15-88l5-52l-5 2l-5 13l-25 87l-105 447l-25 94l-20 61l-20 47l-15 22l-10 6h-5l-8-4l-7-7l-15-26l-25-66l-20-69l-60-262l-64-295l-56-237l-30-116l-62-222l-68-267l-35-121l-25-74l-20-53l-20-45l-20-37l-20-31l-24-27l-21-16l-20-9l-10-1h-15l-15 4l-13 7l-27 22l-25 30l-25 41l-25 51l-25 60l-30 84l-35 113l-45 161l-100 389l-57 244l-78 359l-60 257l-15 51l-20 54l-15 29l-10 10l-5 2l-8-2l-7-6l-15-25l-20-52l-20-67l-55-236l-62-289l-46-200l-37-155l-65-255l-45-169l-45-156l-35-106l-35-88l-35-70l-20-31l-16-20l-19-19l-15-11l-20-9l-20-3l-20 3l-21 9l-22 15l-22 22l-20 26l-19 32l-16 34l-11 31l-5 20l-2 20l2 10l6 3l15-10l58-53l17-12l20-10l20-6l20-2l20 3l20 9l17 13l18 19l32 46l36 70l33 85l22 65l24 80l50 200l158 725l75 366l83 429l9 40l9 30l9 20z"/>
<path fill="#0068ff" d="M1262 3318l8 4l10-1l13-13l14-30l11-40l92-478l80-393l90-422l52-267l45-190l21-70l24-70l36-90l19-40l20-35l20-30l16-20l17-17l20-15l15-7l20-4h15l20 5l15 8l16 10l22 20l32 33l5 4l5-1l-5-26l-10-28l-15-33l-15-26l-15-21l-16-17l-19-14l-15-7l-15-2l-10 1l-10 3l-15 7l-25 20l-25 31l-25 42l-20 41l-25 62l-25 72l-25 79l-65 227l-100 362l-62 256l-83 379l-35 153l-20 79l-15 49l-20 53l-15 28l-10 9l-5 2l-9-2l-6-5l-15-24l-20-51l-20-65l-60-256l-78-354l-67-277l-90-324l-70-244l-30-94l-30-82l-30-67l-30-51l-15-19l-16-17l-19-13l-15-7l-15-3l-20 2l-16 6l-19 12l-19 18l-16 20l-14 25l-8 20l-2 15l1 5l3 3h5l10-3l50-23l20-5l15-1l20 2l15 4l20 12l15 12l18 19l19 25l35 60l36 80l34 95l35 120l40 175l53 268l90 422l80 393l87 452l17 60l10 20zM2543 3303h7l5-2l13-18l10-25l10-40l127-682l20-125l3-33l-3-5l-35 129l-64 261l-26 91l-20 55l-20 41l-15 16l-6 2l-9-2l-5-3l-10-12l-15-29l-20-53l-20-66l-21-85l-94-422l-30-128l-45-171l-15-45l-5-5v15l5 35l15 81l141 695l82 435l9 40l11 30l8 15l4 5z"/>
<path fill="#007dff" d="M1262 3313l8 5l10-2l13-13l13-30l12-45l87-455l160-786l20-121l1-23l-1-9l-5 7l-5 11l-20 61l-45 170l-41 170l-69 313l-55 233l-20 66l-20 52l-15 27l-10 9l-5 1l-8-1l-7-5l-15-24l-20-50l-20-63l-25-100l-99-443l-51-212l-25-96l-20-69l-15-43l-5-11l-5 1l5 53l15 87l160 787l82 433l10 45l10 35l9 20zM2545 3298l10-3l12-17l10-25l11-45l107-594l10-64l1-22l-1-4l-5 12l-15 51l-53 206l-32 99l-15 37l-16 29l-14 14l-5 1l-10-1l-15-14l-15-28l-20-52l-20-65l-22-85l-103-450l-20-77l-15-44l-1 11l1 16l15 89l101 510l77 415l10 45l11 30l11 19zM648 1053h22l-1-5l-4-5l-7-5l-13-5l-15 1l-6 4l-3 5l4 5zM1877 1053l8 1l40-4l5-2v-5l-4-5l-11-5h-14l-13 5l-6 5l-4 5z"/>
<path fill="#0092ff" d="M1269 3313l6 1l5-2l10-9l5-8l13-32l10-40l82-435l135-679l20-115l2-26l-2-10l-10 23l-10 32l-45 169l-120 524l-25 101l-20 64l-20 51l-15 26l-5 5l-10 5h-5l-10-6l-15-23l-20-49l-20-62l-25-97l-125-546l-45-168l-15-43l-5-6v23l5 35l20 110l130 654l82 433l11 45l8 25l11 20zM2536 3288l9 5l5-1l10-7l11-22l12-40l59-325l33-211l1-24l-1-2l-5 14l-48 163l-32 86l-14 29l-11 16l-14 9l-11-1l-15-14l-15-26l-20-51l-18-53l-24-90l-53-224l-35-137l-2 1l2 30l15 91l52 269l75 410l17 70l7 20z"/>
<path fill="#00a7ff" d="M1266 3308l9 2l5-1l5-4l9-12l12-30l11-45l83-440l105-535l20-116l3-39l-3-4l-10 27l-35 128l-110 476l-25 99l-20 62l-20 51l-15 25l-6 6l-9 4l-10-3l-5-3l-15-22l-20-48l-20-61l-25-97l-110-476l-30-114l-10-32l-10-25l-2 12l2 22l20 119l110 561l77 413l11 45l8 25l9 18zM2545 3288h5l5-3l12-17l10-30l9-40l54-306l10-74l1-40l-1-3l-48 128l-22 49l-10 16l-10 10l-10 5l-10-1l-15-13l-12-21l-16-35l-20-55l-24-80l-43-171l-10-36l-3-3l-2-11v16l5 32l107 593l9 40l8 25l11 19z"/>
<path fill="#00bbff" d="M1264 3303l6 4l10-2l11-12l12-25l14-55l78-419l50-253l45-240l15-92l1-21l-1-8l-5 10l-10 31l-20 75l-100 427l-25 97l-20 62l-20 49l-15 25l-9 7l-6 2l-10-2l-5-4l-15-21l-20-47l-20-60l-26-98l-104-444l-25-90l-5-13l-5-5v12l5 39l15 87l90 467l78 417l16 65l8 20zM2543 3283h7l5-3l10-14l9-23l9-35l52-302l6-48v-30l-1-4l-5 6l-43 103l-17 33l-10 13l-10 7l-10 2l-5-2l-10-7l-9-11l-18-35l-25-65l-38-113l-3-2l-2-9v15l5 40l14 99l53 295l10 40l8 25l10 19z"/>
<path fill="#00d0ff" d="M1275 3304l5-2l9-9l6-10l11-30l11-45l77-420l56-288l35-203v-27l-10 28l-10 38l-98 407l-22 83l-20 60l-20 49l-15 24l-5 5l-10 4h-5l-10-6l-15-21l-20-46l-20-58l-26-94l-99-414l-15-52l-5-7v13l5 37l35 198l51 265l77 415l10 45l9 30l11 20l7 8zM2541 3278l9 1l5-3l6-8l11-25l9-35l12-60l33-200l7-55l2-30l-5-5l-5 8l-35 77l-17 30l-8 10l-10 7l-10 2l-5-2l-15-12l-15-25l-18-40l-32-82l-5-12l-5-5v28l9 71l48 270l16 65l9 20z"/>
<path fill="#00e5ff" d="M1265 3298l10 3l5-2l10-11l12-25l12-45l126-679l20-126l1-25l-1-2l-25 88l-68 279l-26 90l-21 61l-15 35l-15 23l-7 6l-8 3l-10-2l-5-4l-15-20l-20-45l-20-58l-26-94l-69-280l-25-85v16l5 37l15 94l46 243l77 420l10 45l9 30l8 18zM2540 3273l5 3l5-1l10-9l10-23l8-30l14-70l28-175l7-55v-25l-2-5l-5 6l-32 64l-15 25l-13 13l-10 5h-5l-8-3l-7-5l-15-20l-18-35l-27-65l-10-18l-3 13l3 35l46 275l17 70l7 17z"/>
<path fill="#00faff" d="M1263 3293l7 5h5l9-5l6-8l12-27l11-40l122-669l7-56l1-10l-3-5l-20 68l-58 232l-22 74l-20 56l-15 34l-15 23l-10 7l-5 2l-6-1l-9-5l-15-20l-15-32l-20-54l-27-89l-63-252l-15-46l-1 3l1 27l10 64l113 619l10 45l8 30l9 20zM2539 3268l6 4l5-1l10-9l8-19l9-30l14-75l24-150l6-45l1-30l-2-7l-5 4l-29 53l-16 23l-15 12l-10 2l-15-8l-15-19l-14-25l-26-58l-5-9l-5-3l-1 25l6 45l38 225l15 65l7 18z"/>
<path fill="#00ffef" d="M1266 3293l9 2l5-2l10-11l12-29l11-40l102-568l10-60l3-32l-3-4l-20 69l-42 165l-32 100l-16 41l-15 30l-15 18l-10 4l-10-2l-5-3l-14-18l-16-33l-16-42l-32-100l-42-166l-20-67l-1 18l6 43l103 577l9 45l11 35l9 20zM2545 3268l5-1l5-3l7-11l8-20l9-35l13-70l19-125l6-50l-1-25l-1-2l-5 3l-27 44l-13 18l-15 11l-10 1l-12-5l-13-13l-16-27l-24-47l-5-8l-5 1v21l5 40l37 223l8 35l8 25l7 12l5 6z"/>
<path fill="#00ffdb" d="M1263 3288l7 4l5 1l8-5l7-8l11-27l11-40l54-300l39-231l6-44l1-15l-2-3l-48 173l-31 95l-16 39l-15 30l-13 16l-12 6l-6-1l-9-5l-10-11l-15-27l-15-36l-32-96l-43-157l-10-29v1v22l5 32l38 231l50 275l17 75l10 24zM2542 3263l8 1l10-11l8-20l8-30l12-60l17-115l7-55v-25l-2-4l-5 2l-25 37l-15 17l-10 6l-10 1l-11-4l-14-14l-40-66l-5 6l3 39l30 190l9 45l8 31l10 22z"/>
<path fill="#00ffc6" d="M1266 3288l9 3l5-3l10-11l12-29l10-40l58-325l25-166v-24l-5 13l-38 127l-32 86l-13 29l-12 19l-10 10l-10 4l-10-2l-10-8l-10-14l-15-30l-32-84l-43-142l-3-3l-2-9v15l25 169l53 300l10 50l8 30l9 21zM2540 3258l5 3l5-1l7-7l8-15l9-30l12-65l14-90l7-55l1-30l-3-9l-5 3l-24 31l-10 10l-11 7l-10 1l-10-4l-15-14l-35-51l-3 1l-2 5l2 30l25 170l16 75l7 20z"/>
<path fill="#00ffb1" d="M1273 3288l7-2l5-4l8-14l9-25l10-40l53-300l15-102l3-38l-3-6l-42 121l-28 67l-18 28l-7 6l-10 4l-10-2l-10-8l-10-13l-10-19l-22-53l-48-134l-1 9l1 24l15 106l52 300l11 45l8 25l9 17l5 5zM2539 3253l6 4h5l5-4l10-19l8-26l10-50l12-81l7-59l2-35l-4-10l-5 2l-30 33l-10 5l-10 2l-10-4l-10-8l-35-45l-5 3v23l22 154l16 80l7 21z"/>
<path fill="#00ff9c" d="M1266 3283l9 3l5-2l9-11l9-20l10-35l14-70l43-250l10-77v-32l-10 19l-34 90l-21 50l-10 17l-10 13l-8 5l-7 3l-10-2l-8-6l-17-24l-21-46l-44-115h-3l-2 5l5 52l9 63l48 275l16 65l9 20zM2544 3253h6l10-12l7-18l8-30l10-60l10-70l5-45v-29l-5-4l-30 27l-10 5l-10 1l-15-6l-14-14l-16-21l-5-5l-5 1l-1 15l2 35l23 150l8 35l7 25l6 12z"/>
<path fill="#00ff87" d="M1269 3283l6 1l5-2l11-14l11-30l9-40l50-285l9-67v-32l-5 5l-5 10l-33 84l-18 40l-9 15l-10 12l-5 4l-10 4l-5-1l-10-4l-10-11l-9-14l-19-40l-37-93l-5-9l-3 2v30l8 60l48 280l9 40l8 26l10 21zM2545 3250l5-1l6-6l9-18l7-27l10-50l9-65l6-50v-30l-2-6l-5-1l-28 22l-7 3l-10 1l-15-6l-30-31l-5-1l-3 14l3 35l18 125l13 60l9 23z"/>
<path fill="#00ff72" d="M1265 3278l5 3l5 1l5-3l6-6l10-20l11-40l15-75l38-226l6-54l-1-25l-5 5l-5 10l-33 80l-17 34l-15 20l-9 6l-6 2l-10-2l-5-3l-15-17l-18-35l-37-88l-5-9h-5v22l9 70l43 250l17 70l6 16zM2540 3243l5 4l5-1l5-5l7-13l8-26l10-54l10-68l4-47v-20l-4-8l-5 1l-25 17l-15 3l-15-6l-25-23l-5-2l-4 8v20l14 110l15 77l6 18z"/>
<path fill="#00ff5e" d="M1268 3278l7 2l5-3l10-12l9-22l9-35l14-75l34-205l7-60v-10l-3-9l-10 17l-29 67l-16 32l-15 19l-5 4l-10 4h-5l-10-5l-15-17l-17-32l-33-75l-5-10l-5-4l-1 4l1 30l5 42l44 258l16 66l10 21zM2539 3238l6 5l5-1l5-4l7-15l8-25l16-95l5-50v-30l-1-5l-5-4l-25 14l-15 2l-15-6l-25-19l-5 4l-1 24l11 90l15 80l6 20z"/>
<path fill="#00ff49" d="M1264 3273l6 4l5 1l5-3l7-7l11-25l9-35l15-80l33-201l5-54l-1-5l-4-3l-10 18l-27 60l-13 24l-15 19l-10 7l-5 1l-7-1l-8-4l-15-16l-16-30l-34-73l-5-6l-2 4v25l6 50l39 230l16 70l6 16zM2543 3238l7 1l5-6l7-15l8-28l15-95l4-42l-1-20l-3-10l-5-1l-20 10l-15 2l-10-3l-25-16h-5l-3 13l1 25l12 96l15 67l5 13z"/>
<path fill="#00ff34" d="M1267 3273l8 3l5-3l8-10l11-25l8-35l14-75l29-176l6-49l-1-26l-5 3l-5 8l-28 60l-14 25l-13 15l-7 5l-8 3l-10-2l-5-3l-13-13l-15-25l-32-68l-5-7l-5 4v16l5 43l41 247l16 60l8 18zM2545 3236l5-1l5-5l7-17l7-25l7-40l7-55l3-35l-1-20l-5-8l-5 1l-20 7l-10 1l-10-3l-20-12l-5-1l-5 10v20l10 85l13 65l7 21z"/>
<path fill="#00ff1f" d="M1270 3273l5 1l5-3l10-13l9-25l9-35l14-80l28-175l4-40l-1-10l-3-4l-10 15l-21 44l-14 25l-15 18l-15 7h-5l-10-5l-11-10l-16-25l-33-66l-5-4l-1 5v25l6 45l37 225l15 60l8 16zM2540 3228l5 4l5-1l5-5l10-28l8-40l7-45l3-60l-3-12l-5-3l-20 5h-10l-30-12l-5 3l-2 19l5 65l12 70l7 25z"/>
<path fill="#00ff0a" d="M1265 3268l5 3l5 1l10-8l10-21l9-30l13-70l28-174l5-41v-27l-5 1l-5 7l-28 54l-12 19l-15 14l-10 4l-10-2l-15-12l-16-23l-24-48l-10-15l-4 8l2 30l6 50l33 195l13 56l8 19zM2539 3223l6 5l5-1l4-4l6-13l5-16l12-76l3-35v-25l-5-12l-5-1l-25 3l-25-8h-5l-4 13l2 50l12 78l6 22z"/>
<path fill="#0aff00" d="M1268 3268l7 2l5-3l10-14l8-20l8-35l16-85l23-153l3-37l-3-13l-10 13l-21 40l-13 20l-11 12l-15 7l-10-2l-15-12l-17-25l-23-43l-5-7l-5-2l-1 2v25l6 45l32 200l15 60l8 17zM2544 3223h6l5-6l10-30l10-64l3-35l-1-20l-2-11l-5-4l-25 1l-25-6l-5 5l-2 20l7 70l10 53l5 15l5 9z"/>
<path fill="#1fff00" d="M1264 3263l6 4l5 1l5-2l5-6l10-21l8-31l15-75l23-150l5-50l-1-10l-5-2l-40 65l-15 14l-10 3l-10-1l-15-12l-13-17l-27-48l-5-5l-3 8v25l7 50l28 175l13 55l8 20zM2543 3218h7l5-6l10-32l9-62l1-41l-4-14l-6-3h-20l-20-5l-5 3l-4 15l3 55l11 61l5 16l5 10z"/>
<path fill="#34ff00" d="M1270 3266h5l5-2l5-6l10-22l9-33l14-75l22-148l3-37l-3-13l-5 3l-5 8l-30 47l-15 14l-10 3l-10-1l-14-11l-12-15l-29-46l-5-1v2l-1 25l6 45l27 170l14 60l8 20zM2545 3215l5-2l5-6l8-24l7-45l2-50l-2-13l-5-7l-35-5l-5 2l-5 8l-1 20l1 25l10 64l5 18z"/>
<path fill="#49ff00" d="M1269 3263l6 1l5-2l9-14l9-25l8-35l15-85l17-120l3-35l-1-6l-5-2l-37 53l-13 11l-10 3l-10-1l-11-8l-17-20l-22-35l-5-4l-3 4l-1 15l4 39l28 181l15 60l7 15zM2545 3210l5-2l5-7l5-15l8-48l2-40l-2-10l-4-10l-9-4l-20-2h-5l-6 6l-2 15v20l8 62l5 19l5 11z"/>
<path fill="#5eff00" d="M1265 3258l5 4l5 1l5-3l5-6l9-21l9-30l13-75l19-127l3-38v-10l-3-6l-5 3l-22 33l-13 15l-10 8l-10 3l-10-1l-14-10l-12-15l-19-29l-5-5l-5-1l-2 15l2 25l24 165l15 70l7 20zM2544 3203h6l5-9l5-16l6-35l1-35l-2-13l-5-9l-10-4l-15-1l-5 2l-4 10l-1 32l5 38l4 20l6 16z"/>
<path fill="#72ff00" d="M1267 3258l8 3l5-3l5-6l10-23l9-36l14-80l17-120v-35l-5-2l-35 44l-10 8l-10 3l-10-2l-15-10l-30-40l-5-4l-4 8l4 57l24 153l14 60l7 16zM2541 3193l4 5l5-2l5-9l6-29l3-35l-1-15l-4-10l-4-5l-5-2l-10-1l-5 2l-5 7l-2 24l4 40l3 15z"/>
<path fill="#87ff00" d="M1269 3258l6 1l5-3l9-13l7-20l8-35l13-70l14-100l3-40l-1-10l-3-6l-5 3l-30 37l-10 8l-10 3l-10-2l-13-8l-32-39l-5-2l-2 6v20l4 40l22 145l15 60l6 14zM2545 3190l5-2l5-11l6-39l-3-25l-3-7l-10-5l-5 1l-5 4l-4 22l4 38l5 18z"/>
<path fill="#9cff00" d="M1265 3253l5 4h5l5-3l5-6l9-20l7-25l12-65l14-100l5-45l-2-23h-5l-24 28l-10 10l-16 7l-10-2l-10-6l-35-38l-5 5v24l4 40l19 125l13 60l8 20zM2545 3180l5-2l5-16l2-19l-2-18l-5-9l-5-2l-6 4l-3 10l-1 10l3 25l2 9z"/>
<path fill="#b1ff00" d="M1268 3253l7 2l5-2l5-7l10-23l8-35l13-75l13-95l1-35l-2-5l-3-3l-32 33l-8 6l-10 3l-10-2l-10-6l-30-32l-5-2l-3 8v20l3 34l20 131l14 60l6 15zM2545 3163l5-5l1-10l-1-7l-5-6l-3 13z"/>
<path fill="#c6ff00" d="M1270 3253l5 1l5-3l6-8l9-24l7-31l12-65l12-85l2-40v-10l-3-7l-5 2l-30 30l-15 6l-10-2l-10-6l-30-29l-5 1l-1 5v25l3 35l20 130l13 52l6 13z"/>
<path fill="#dbff00" d="M1270 3251l5 1l5-3l5-7l10-24l7-30l12-70l11-85l2-35l-2-9l-5-2l-30 28l-15 5l-10-1l-10-5l-25-24l-5-3l-4 6l-1 20l3 35l16 110l13 60l8 21z"/>
<path fill="#efff00" d="M1268 3248l7 2l5-3l5-7l9-22l8-35l13-75l9-75l1-32l-5-9l-5 3l-25 22l-15 5l-10-1l-10-5l-25-23h-5l-2 5l-1 20l3 35l17 115l13 57l5 12z"/>
<path fill="#fffa00" d="M1273 3248l7-3l10-17l14-55l11-70l7-60l2-30l-4-15h-5l-25 21l-15 5l-15-3l-30-23l-5 2l-1 3l-1 15l2 30l10 75l9 55l7 30l8 25l6 10z"/>
<path fill="#ffe500" d="M1270 3246l5 1l5-4l5-7l9-23l7-30l10-60l10-80v-35l-1-3l-5-3l-25 19l-15 5l-15-3l-25-19l-5-2l-5 8v23l3 30l14 100l12 55l6 15z"/>
<path fill="#ffd000" d="M1269 3243l6 2l5-3l5-8l8-21l8-35l10-60l9-74v-30l-5-7l-5 1l-20 15l-15 5l-15-3l-25-17l-5-1l-3 6l-1 20l3 35l14 100l12 50l5 13z"/>
<path fill="#ffbb00" d="M1265 3238l5 4l5 1l6-5l9-17l8-28l10-60l9-70l2-35l-1-10l-3-6h-5l-20 13l-15 5l-15-3l-25-16l-5 3l-1 4l-1 15l1 30l12 85l12 60l7 21z"/>
<path fill="#ffa700" d="M1270 3240l5 1l5-3l5-8l8-22l7-30l10-61l7-64v-30l-2-5l-5-2l-25 14l-10 2l-15-3l-20-12l-5-1l-5 7v40l14 100l11 50l5 14z"/>
<path fill="#ff9200" d="M1269 3238l6 1l5-3l5-8l7-20l8-35l10-61l6-54l-1-30l-1-5l-4-3l-25 12l-10 3l-15-3l-20-12h-5l-4 8l-1 15l3 35l12 88l11 47l6 15z"/>
<path fill="#ff7d00" d="M1270 3237h5l6-4l9-20l7-25l9-50l8-70l1-30l-5-13l-5-1l-20 11l-10 2l-10-1l-25-12l-5 2l-2 7l-1 15l2 30l10 80l11 50l5 15z"/>
<path fill="#ff6800" d="M1268 3233l7 2l5-3l5-8l7-21l8-35l10-69l3-41l-2-25l-1-3l-5-2l-20 9l-10 2l-10-1l-25-10l-5 5l-1 5l1 45l10 75l10 47l5 15z"/>
<path fill="#ff5300" d="M1271 3233l4 1l5-4l5-8l8-24l7-35l8-55l4-45l-1-25l-6-6l-30 9l-10-1l-20-8h-5l-5 11v20l2 30l11 80l12 45l5 10z"/>
<path fill="#ff3e00" d="M1270 3231l5 1l8-9l7-17l7-28l8-51l5-49v-30l-5-12h-5l-25 8l-10-1l-20-7l-5 1l-4 11l1 40l8 65l10 47l5 16z"/>
<path fill="#ff2a00" d="M1269 3228l6 2l5-4l5-9l8-24l7-37l6-48l4-45l-4-20l-6-3l-25 6l-30-6l-5 3l-1 5l-2 15l1 25l9 70l11 50l7 16z"/>
<path fill="#ff1500" d="M1270 3227l5 1l5-5l10-23l6-27l9-58l3-42l-1-20l-2-6l-5-4l-25 6l-30-5l-5 9l-1 35l6 55l10 51l5 17z"/>
<path fill="#ff0000" d="M1268 3223l7 3l7-8l8-20l6-25l6-45l5-45l-1-25l-1-5l-5-5l-25 3l-25-4l-5 2l-4 9v35l8 70l11 45z"/>
<path fill="#ff0000" d="M1272 3223h3l5-4l6-11l8-30l6-36l5-48v-26l-4-15l-6-2l-20 3l-25-3l-5 3l-3 9v40l8 60l10 43l5 11z"/>
</g></g>
<path d="M528.01 399.3v-4M528.01 66.5v4M553.22 399.3v-4M553.22 66.5v4M578.43 399.3v-4M578.43 66.5v4M603.64 399.3v-4M603.64 66.5v4M628.85 399.3v-6.1M628.85 66.5v6.1M654.06 399.3v-4M654.06 66.5v4M679.27 399.3v-4M679.27 66.5v4M704.48 399.3v-4M704.48 66.5v4M729.69 399.3v-4M729.69 66.5v4M754.9 399.3v-6.1M754.9 66.5v6.1M780.11 399.3v-4M780.11 66.5v4M805.32 399.3v-4M805.32 66.5v4M830.53 399.3v-4M830.53 66.5v4M855.74 399.3v-4M855.74 66.5v4M502.8 388.21h4M877.5 388.21h-4M502.8 377.11h4M877.5 377.11h-4M502.8 366.02h4M877.5 366.02h-4M502.8 354.93h4M877.5 354.93h-4M502.8 343.84h6.1M877.5 343.84h-6.1M502.8 332.74h4M877.5 332.74h-4M502.8 321.65h4M877.5 321.65h-4M502.8 310.56h4M877.5 310.56h-4M502.8 299.46h4M877.5 299.46h-4M502.8 288.37h6.1M877.5 288.37h-6.1M502.8 277.28h4M877.5 277.28h-4M502.8 266.18h4M877.5 266.18h-4M502.8 255.09h4M877.5 255.09h-4M502.8 244h4M877.5 244h-4M502.8 232.91h6.1M877.5 232.91h-6.1M502.8 221.81h4M877.5 221.81h-4M502.8 210.72h4M877.5 210.72h-4M502.8 199.63h4M877.5 199.63h-4M502.8 188.53h4M877.5 188.53h-4M502.8 177.44h6.1M877.5 177.44h-6.1M502.8 166.35h4M877.5 166.35h-4M502.8 155.25h4M877.5 155.25h-4M502.8 144.16h4M877.5 144.16h-4M502.8 133.07h4M877.5 133.07h-4M502.8 121.98h6.1M877.5 121.98h-6.1M502.8 110.88h4M877.5 110.88h-4M502.8 99.79h4M877.5 99.79h-4M502.8 88.7h4M877.5 88.7h-4M502.8 77.6h4M877.5 77.6h-4" stroke="#000" stroke-width="1.25" fill="none"/>
<rect x="502.65" y="66.35" width="375" height="333.1" fill="none" stroke="#000" stroke-width="1.3"/>
<text x="495.5" y="403.1" text-anchor="end" class="t">0</text>
<text x="495.5" y="347.64" text-anchor="end" class="t">2</text>
<text x="495.5" y="292.17" text-anchor="end" class="t">4</text>
<text x="495.5" y="236.7" text-anchor="end" class="t">6</text>
<text x="495.5" y="181.24" text-anchor="end" class="t">8</text>
<text x="495.5" y="125.78" text-anchor="end" class="t">10</text>
<text x="495.5" y="70.31" text-anchor="end" class="t">12</text>
<text transform="translate(466.2 244.4) rotate(-90)" text-anchor="middle" class="a">Energy (meV)</text>
<text x="664.9" y="124.9" class="S">S</text>
<text x="696.8" y="99.9" class="sup" textLength="25" lengthAdjust="spacingAndGlyphs">yy</text>
</g>
<g>
<clipPath id="c3"><rect x="0" y="0" width="3750" height="3328"/></clipPath>
<rect x="115" y="409" width="375" height="332.8" fill="#0000ff"/>
<g transform="translate(115 409) scale(.1)" clip-path="url(#c3)"><g filter="url(#soft)">
<path fill="#0015ff" d="M1870 2368l50-1l50-6l55-11l152-37l48-8l40-3l35 1l35 4l100 24l40 8l30 3h25l25-6l25-13l30-21l30-28l19-26l19-35l71-160l43-105l40-105l63-183l75-208l30-74l20-38l30-47l35-46l47-49l10-15l7-15l8-25l4-25l2-55l-2-25l-5-25l-7-20l-9-15l-10-7l-15-2l-20 8l-20 13l-30 26l-30 32l-23 30l-19 30l-30 60l-45 105l-35 90l-68 186l-55 132l-85 183l-15 25l-20 21l-20 12l-25 9l-25 5h-25l-50-9l-105-32l-40-10l-35-5l-40-1l-40 3l-50 8l-148 33l-47 8l-45 6l-40 1l-40-3l-43-7l-42-10l-140-38l-45-9l-35-5l-40-2l-40 2l-142 22l-53 4h-20l-20-4l-15-6l-20-13l-35-35l-45-59l-30-48l-30-58l-30-66l-30-73l-152-407l-25-55l-25-45l-32-50l-25-35l-21-24l-15-13l-20-9l-20-1l-20 7l-20 14l-32 36l-40 60l-30 55l-21 55l-14 50l-48 191l-108 359l-69 255l-16 65l-9 50l-3 35l2 15l3 8l5 2l5-3l10-15l20-44l22-58l145-435l25-80l38-136l15-41l15-29l15-22l20-24l23-23l20-15l17-10l20-6h15l10 2l15 7l15 12l15 17l35 48l40 68l20 45l20 53l138 394l75 190l36 75l52 95l35 55l29 34l20 16l20 10l20 6l25 3l25-1l35-6l130-27l40-3l40 2l67 11l168 43l45 8z"/>
<path fill="#002aff" d="M1846 2343l54 2l60-6l65-13l155-37l45-8l40-3h35l35 5l140 32l30 3l25-1l25-6l20-9l30-21l30-27l20-26l18-35l64-145l46-110l40-105l67-193l75-208l30-75l20-39l30-46l35-46l50-53l13-25l6-20l4-20l1-45l-2-20l-5-20l-7-15l-5-6l-10-6h-15l-20 9l-20 15l-25 23l-32 35l-22 30l-18 30l-30 60l-46 110l-97 261l-55 131l-85 182l-20 33l-18 18l-22 13l-25 9l-25 4h-25l-30-4l-30-7l-130-39l-40-6l-40-1l-40 3l-45 7l-194 41l-46 6l-45 1l-40-3l-50-8l-175-47l-35-8l-40-6l-40-2l-45 2l-142 20l-53 4l-20-1l-20-4l-20-8l-15-10l-35-35l-45-57l-30-47l-35-68l-35-78l-25-61l-67-180l-81-210l-24-55l-25-45l-33-51l-25-34l-20-22l-20-16l-15-6l-20-1l-20 8l-20 15l-33 37l-36 55l-28 50l-19 50l-16 55l-43 174l-91 306l-34 124l-30 124l-8 42v20l3 3l5-8l15-33l70-192l77-230l48-171l20-52l15-27l20-27l25-29l20-18l20-15l15-7l20-4l15 1l10 4l15 9l15 14l15 18l40 60l35 62l35 87l142 410l75 190l36 75l49 90l35 55l28 34l20 16l20 10l20 6l25 2l55-6l135-30l35-3l40 1l62 10l168 43z"/>
<path fill="#003eff" d="M1864 2328h51l55-7l50-11l155-38l50-8l40-4l30 1l35 4l145 32l30 3l25-1l20-4l25-11l25-17l30-26l20-25l18-33l70-160l39-95l40-105l68-195l75-209l30-75l25-48l30-46l35-44l45-48l12-20l8-30l2-40l-6-30l-6-13l-5-6l-10-5l-15 3l-20 11l-20 16l-25 25l-30 34l-18 25l-17 29l-32 66l-44 105l-94 252l-55 132l-90 191l-15 24l-20 21l-25 15l-25 9l-25 4h-25l-25-3l-30-7l-100-31l-40-10l-35-6l-40-1l-40 3l-50 8l-185 39l-45 6l-45 2l-42-3l-48-8l-50-12l-135-37l-70-13l-40-2l-45 2l-150 19l-45 3l-25-1l-20-5l-15-7l-15-10l-35-34l-50-64l-30-48l-30-58l-30-65l-30-72l-72-193l-77-195l-24-55l-22-39l-30-46l-30-39l-20-22l-20-15l-15-6l-20 1l-20 9l-20 15l-30 34l-35 50l-25 44l-20 48l-15 53l-37 158l-88 306l-10 41l-3 23l1 5h2l15-33l40-109l35-106l42-152l15-40l11-25l17-28l25-33l25-29l20-18l20-13l15-7l20-2l15 4l10 5l15 12l25 29l40 62l35 64l15 34l20 53l143 417l75 190l35 75l49 90l35 55l28 35l20 16l20 10l20 6l25 3l25-2l30-5l100-24l40-8l35-3l40 2l37 5l38 8l160 41l40 7z"/>
<path fill="#0053ff" d="M1847 2313l53 2l60-7l60-12l155-38l50-9l40-3h35l35 5l140 31l30 3l25-1l20-4l25-12l25-17l25-21l20-24l20-35l101-238l46-120l66-190l76-210l33-85l23-44l30-46l35-44l45-48l11-18l7-25l2-25l-4-25l-8-15l-8-6l-15 2l-15 7l-20 16l-25 24l-30 35l-20 27l-15 25l-30 61l-45 106l-98 263l-52 123l-90 190l-20 32l-20 20l-25 14l-25 9l-25 4h-25l-25-3l-30-7l-100-31l-40-10l-35-6l-40-1l-40 3l-45 6l-195 41l-40 5l-40 2l-45-3l-49-8l-46-11l-135-37l-40-9l-35-5l-40-3l-45 2l-149 18l-46 3l-25-2l-20-5l-15-6l-15-10l-35-34l-45-57l-35-54l-30-57l-30-65l-30-70l-73-193l-77-194l-25-55l-25-43l-30-42l-25-30l-20-19l-20-13l-20-4l-19 5l-21 13l-25 22l-25 29l-20 26l-20 31l-15 28l-10 24l-10 33l-8 44l-1 10l2 5l2 1l5-5l48-66l27-34l25-25l20-13l15-5h10l20 7l20 15l25 31l25 39l35 62l20 39l15 34l25 68l138 407l50 130l35 85l34 70l50 90l28 43l25 31l20 16l20 11l20 6l25 2l25-2l30-5l135-33l35-4l40 1l65 10l165 42z"/>
<path fill="#0068ff" d="M1826 2298l59 4l65-5l65-12l165-41l50-9l40-3h30l35 5l140 30l30 3h25l20-5l20-9l25-16l25-20l20-23l20-34l95-223l50-130l77-222l72-200l23-60l24-50l32-50l31-40l46-49l12-16l6-15l3-20l-1-18l-5-13l-5-5l-5-1l-10 1l-15 7l-20 16l-25 25l-30 36l-20 28l-15 26l-30 62l-45 106l-88 235l-34 85l-55 120l-69 140l-19 26l-25 19l-35 15l-20 4l-20 2l-25-2l-30-5l-140-42l-30-7l-30-3h-40l-50 5l-55 9l-155 33l-50 6l-45 2l-40-3l-50-8l-46-11l-134-37l-45-10l-35-5l-40-2l-45 1l-140 17l-40 3l-40-3l-15-4l-15-7l-15-9l-20-18l-45-52l-40-57l-35-63l-35-74l-30-70l-79-205l-66-164l-20-45l-20-38l-25-37l-35-39l-15-12l-10-5l-10-2l-6 2l-4 5l-2 10l5 25l14 30l78 155l25 59l152 451l75 195l35 80l34 65l47 80l32 44l20 18l20 12l25 8l25 2l25-2l30-5l101-27l39-8l35-4l40 2l70 11l145 37z"/>
<path fill="#007dff" d="M1840 2288l60 2l60-7l60-12l160-41l45-7l40-4h35l35 4l140 30l30 3l25-1l20-4l20-9l25-16l25-21l20-23l20-36l90-217l50-133l68-198l80-225l29-75l26-50l26-40l23-30l58-65l5-10l2-10l-1-10l-3-5l-8-3l-10 3l-15 10l-20 19l-50 61l-30 49l-30 63l-45 106l-77 207l-37 90l-53 115l-75 150l-23 30l-25 18l-35 15l-20 4l-20 2l-25-2l-30-6l-140-42l-35-7l-30-3h-40l-45 4l-55 10l-155 32l-50 6l-45 2l-45-3l-45-8l-49-12l-136-38l-40-8l-35-5l-40-3l-50 2l-130 14l-45 3l-40-3l-15-4l-15-7l-30-22l-35-38l-45-60l-30-49l-35-69l-40-89l-90-231l-75-176l-20-38l-20-29l-15-14l-10-5h-5l-3 4l-1 10l8 35l62 155l142 430l59 160l37 90l33 70l62 110l20 30l16 20l20 19l20 12l25 8l25 1l30-2l30-6l100-29l35-7l35-4l40 1l65 11l155 39z"/>
<path fill="#0092ff" d="M1866 2278l49-1l55-8l55-12l145-38l45-9l40-5l35-1l35 3l40 7l85 20l50 7h20l21-3l19-7l20-10l30-23l20-20l15-22l15-29l70-175l40-108l40-125l10-39v-10l-15 24l-123 239l-24 40l-18 20l-20 15l-25 11l-30 9l-30 2l-40-5l-40-11l-110-34l-35-8l-30-3h-40l-45 4l-55 10l-155 31l-45 6l-45 1l-45-2l-50-9l-50-12l-135-38l-40-8l-40-6l-40-2l-50 1l-160 15l-30-1l-25-3l-20-7l-15-9l-15-11l-20-20l-50-60l-40-61l-35-67l-41-88l-94-238l-50-115l-20-41l-15-26l-10-12l-5-4l-2 1l-3 5l1 5l4 22l70 227l97 296l46 125l45 115l33 70l62 110l22 34l20 24l20 17l20 10l20 6l25 1l30-3l30-6l100-30l35-8l35-4l35 1l35 4l40 7l170 42l40 7z"/>
<path fill="#00a7ff" d="M1835 2263l60 2l65-7l65-14l155-42l45-9l40-4l30-1l35 3l120 26l40 5l35 1l30-7l25-13l30-23l20-21l15-24l20-46l40-113l15-52v-14l-5 2l-10 12l-42 64l-23 23l-20 13l-25 11l-25 7l-25 3l-25-1l-35-7l-143-44l-32-7l-30-4h-45l-45 5l-50 8l-155 30l-50 6l-45 1l-40-3l-50-8l-45-11l-140-40l-40-8l-35-6l-45-2h-50l-170 13l-30-2l-25-5l-15-7l-15-9l-35-33l-50-62l-35-53l-36-68l-42-90l-82-204l-30-69l-30-60l-10-13l-2 1l-2 10l9 45l35 123l93 287l55 150l39 95l37 75l56 99l20 29l20 23l20 15l20 9l20 4l25 1l30-5l30-6l125-39l35-5h35l35 4l40 6l155 39z"/>
<path fill="#00bbff" d="M1249 2248l31 2l40-5l42-12l98-33l30-7l25-2l35 1l45 5l45 9l150 36l45 7l40 3l50-3l50-9l50-12l155-44l45-9l45-6l30-1l35 3l109 22l33 5l28 2l25-2l21-5l24-11l25-18l20-19l15-22l10-21l10-29l5-30l-2-5l-3-3h-5l-75 25l-25 4l-25-1l-55-12l-99-33l-41-12l-40-7l-40-2l-35 1l-45 6l-200 36l-50 4h-40l-40-4l-45-9l-175-49l-41-9l-39-6l-45-3l-55-1l-165 11l-35-3l-25-7l-15-7l-15-11l-34-33l-46-56l-35-53l-33-61l-45-95l-97-232l-20-38l-5-6l-5 1v10l5 25l10 41l85 274l44 125l57 145l24 50l29 55l31 55l25 39l20 25l15 13l20 12z"/>
<path fill="#00d0ff" d="M1263 2243l27-1l35-6l41-13l99-37l30-7l30-2l40 2l45 6l155 36l50 9l50 5l45-2l35-5l46-10l204-62l40-10l40-8l25-2h30l35 4l95 16l30 1l25-3l35-9l24-12l16-14l5-11l-2-5l-8-2h-35l-30-5l-50-16l-130-47l-39-10l-31-4l-40-2l-45 3l-60 8l-145 25l-50 4h-45l-40-4l-45-8l-55-14l-130-38l-75-15l-50-4l-60-1l-160 7l-30-3l-25-7l-15-7l-15-10l-30-29l-45-54l-36-52l-31-55l-35-70l-35-75l-58-135l-10-20l-10-13v16l10 41l70 234l55 154l49 118l25 50l38 70l23 37l20 28l19 20l16 12l20 9z"/>
<path fill="#00e5ff" d="M1245 2233l15 3h20l40-7l48-16l102-42l25-7l30-3l40 1l45 5l150 33l55 9l50 3l51-4l44-9l38-11l43-15l60-25l54-25l37-20l22-15l8-10l1-5l-2-5l-5-5l-13-5l-43-4l-55 3l-150 17l-45 1l-40-2l-40-6l-45-10l-167-49l-73-16l-45-5l-75-4l-155 4l-30-3l-25-8l-25-13l-30-27l-38-43l-37-50l-22-35l-25-45l-88-179l-15-26l-2 5l1 10l6 29l20 74l25 82l50 140l45 109l55 106l40 65l20 25l15 13l15 10z"/>
<path fill="#00faff" d="M1257 2228h18l20-2l45-12l50-21l85-42l20-8l20-4l40-2l50 3l45 6l124 22l36 4h30l40-4l37-10l29-15l11-10l2-5l-1-5l-6-5l-15-5l-87-16l-50-12l-179-57l-71-18l-84-12l-47-5h-159l-25-4l-25-9l-25-15l-25-22l-31-35l-35-45l-36-55l-73-135l-15-25l-5-5l-1 15l6 29l30 102l50 139l25 60l20 42l55 102l35 52l17 19l18 13l20 9z"/>
<path fill="#00ffef" d="M1242 2218l23 3l30-3l35-10l30-12l26-13l33-20l81-58l68-27l6-5l2-5l-2-5l-10-10l-20-10l-73-25l-36-10l-55-7l-120-2l-35-7l-25-11l-20-14l-25-23l-56-66l-31-45l-58-99l-10-16l-10-12l-2 2l-1 5l3 22l25 84l45 124l35 79l50 94l35 55l15 18l15 14l15 9z"/>
<path fill="#00ffdb" d="M1233 2208l17 4l15 1l35-5l42-15l43-25l36-30l14-15l13-20l8-15l5-15v-15l-4-10l-8-10l-14-10l-30-11l-45-6l-105-5l-35-9l-25-12l-35-29l-47-53l-35-45l-58-90l-10-10l-2 5l2 16l25 84l35 94l30 66l50 94l30 47l25 28l15 10z"/>
<path fill="#00ffc6" d="M1246 2203h29l35-8l36-17l28-20l24-25l18-30l5-15l2-15l-1-10l-3-10l-14-15l-25-11l-35-7l-95-8l-30-8l-25-13l-25-19l-30-30l-46-54l-54-73l-5-4h-5l1 12l9 37l30 86l25 58l45 87l30 51l25 32l15 14l10 7z"/>
<path fill="#00ffb1" d="M1239 2193l26 1l30-6l33-15l26-20l21-25l13-25l4-25l-1-10l-4-10l-7-9l-8-6l-22-9l-30-6l-70-9l-30-8l-20-10l-25-18l-25-23l-39-42l-46-54l-10-9l-4 3v5l3 20l21 62l25 59l45 87l25 42l25 33l20 17z"/>
<path fill="#00ff9c" d="M1238 2183h22l25-5l22-10l23-17l16-18l13-25l5-20l-1-10l-3-10l-13-15l-17-9l-24-6l-61-11l-30-11l-20-11l-35-27l-70-71l-15-11l-3 2l-1 5l1 10l8 28l10 27l25 55l40 77l25 39l20 24l20 14z"/>
<path fill="#00ff87" d="M1222 2168l18 4l25-3l20-8l20-13l17-20l10-20l3-20l-5-15l-8-10l-17-9l-65-20l-40-17l-33-24l-57-51l-10-7l-5-1l-2 4v10l7 25l20 47l30 60l20 34l20 28l15 15z"/>
<path fill="#00ff72" d="M1216 2153l14 4l15-1l20-7l16-11l13-15l7-15l2-15l-3-10l-5-8l-8-7l-87-42l-25-16l-40-30l-15-7l-3 5l4 20l14 37l20 41l30 49l15 17z"/>
<path fill="#00ff5e" d="M1218 2138l7 1l10-1l10-5l11-10l6-10l3-10v-10l-4-10l-8-10l-19-15l-74-44l-10-4l-5 1l-2 7l3 15l9 24l15 30l25 35l10 9z"/>
<path fill="#00ff49" d="M1205 2108l10 4l10-4l5-10l-3-15l-12-15l-15-10l-15-7l-5-1l-5 1l-1 12l6 15l10 15z"/>
</g></g>
<path d="M140.21 741.8v-4M140.21 409v4M165.42 741.8v-4M165.42 409v4M190.63 741.8v-4M190.63 409v4M215.84 741.8v-4M215.84 409v4M241.05 741.8v-6.1M241.05 409v6.1M266.26 741.8v-4M266.26 409v4M291.47 741.8v-4M291.47 409v4M316.68 741.8v-4M316.68 409v4M341.89 741.8v-4M341.89 409v4M367.1 741.8v-6.1M367.1 409v6.1M392.31 741.8v-4M392.31 409v4M417.52 741.8v-4M417.52 409v4M442.73 741.8v-4M442.73 409v4M467.94 741.8v-4M467.94 409v4M115 730.71h4M490 730.71h-4M115 719.61h4M490 719.61h-4M115 708.52h4M490 708.52h-4M115 697.43h4M490 697.43h-4M115 686.33h6.1M490 686.33h-6.1M115 675.24h4M490 675.24h-4M115 664.15h4M490 664.15h-4M115 653.06h4M490 653.06h-4M115 641.96h4M490 641.96h-4M115 630.87h6.1M490 630.87h-6.1M115 619.78h4M490 619.78h-4M115 608.68h4M490 608.68h-4M115 597.59h4M490 597.59h-4M115 586.5h4M490 586.5h-4M115 575.4h6.1M490 575.4h-6.1M115 564.31h4M490 564.31h-4M115 553.22h4M490 553.22h-4M115 542.13h4M490 542.13h-4M115 531.03h4M490 531.03h-4M115 519.94h6.1M490 519.94h-6.1M115 508.85h4M490 508.85h-4M115 497.75h4M490 497.75h-4M115 486.66h4M490 486.66h-4M115 475.57h4M490 475.57h-4M115 464.47h6.1M490 464.47h-6.1M115 453.38h4M490 453.38h-4M115 442.29h4M490 442.29h-4M115 431.2h4M490 431.2h-4M115 420.1h4M490 420.1h-4" stroke="#000" stroke-width="1.25" fill="none"/>
<rect x="114.85" y="408.85" width="375.3" height="333.1" fill="none" stroke="#000" stroke-width="1.3"/>
<text x="107.7" y="745.6" text-anchor="end" class="t">0</text>
<text x="107.7" y="690.13" text-anchor="end" class="t">2</text>
<text x="107.7" y="634.67" text-anchor="end" class="t">4</text>
<text x="107.7" y="579.21" text-anchor="end" class="t">6</text>
<text x="107.7" y="523.74" text-anchor="end" class="t">8</text>
<text x="107.7" y="468.27" text-anchor="end" class="t">10</text>
<text x="107.7" y="412.81" text-anchor="end" class="t">12</text>
<text transform="translate(78.4 586.9) rotate(-90)" text-anchor="middle" class="a">Energy (meV)</text>
<text x="114.7" y="760.6" text-anchor="middle" class="t">0.00</text>
<text x="240.75" y="760.6" text-anchor="middle" class="t">0.33</text>
<text x="366.8" y="760.6" text-anchor="middle" class="t">0.66</text>
<text x="302.4" y="780.6" text-anchor="middle" class="a">hh0</text>
<text x="277.5" y="461.4" class="S">S</text>
<text x="308.4" y="436.8" class="sup" textLength="26.6" lengthAdjust="spacingAndGlyphs">xx</text>
</g>
<g>
<clipPath id="c4"><rect x="0" y="0" width="3747" height="3326"/></clipPath>
<rect x="503.7" y="410.6" width="374.7" height="332.6" fill="#0000ff"/>
<g transform="translate(503.7 410.4) scale(.1)" clip-path="url(#c4)"><g filter="url(#soft)">
<path fill="#0015ff" d="M1243 3328h61l8-20l11-35l14-65l28-148l55-274l90-424l160-681l30-117l25-87l25-77l25-67l25-56l20-38l25-37l20-21l20-13l14-5l11-1l11 1l14 5l22 15l23 24l25 38l20 39l25 57l25 67l25 77l25 87l30 117l155 655l95 444l55 272l27 143l14 65l11 35l13 25h43l15-30l15-55l87-446l90-434l155-694l70-295l6-36l4-35v-20l-5-16l-5-1l-10 11l-10 18l-15 37l-30 88l-42 143l-45 175l-65 270l-51 225l-62 293l-55 241l-20 71l-20 56l-15 28l-7 6l-8 2l-5-2l-10-12l-15-32l-20-60l-15-55l-60-270l-98-466l-85-370l-29-120l-41-150l-30-105l-30-90l-31-80l-33-70l-20-35l-17-25l-31-36l-15-12l-15-9l-15-6l-20-2l-20 2l-15 6l-15 9l-20 16l-20 22l-21 30l-21 35l-25 50l-25 60l-21 55l-44 140l-66 240l-74 315l-61 275l-67 325l-60 266l-20 70l-20 53l-10 18l-5 5l-5 2h-5l-10-10l-15-31l-15-42l-15-52l-60-264l-108-510l-84-365l-31-120l-50-180l-29-95l-30-85l-36-85l-36-65l-17-25l-19-23l-15-15l-20-14l-20-10l-15-3h-20l-20 5l-20 9l-20 13l-20 17l-19 21l-33 45l-30 55l-25 55l-25 70l-15 55l-6 45v60l5 40l3 8l5 4h5l10-9l15-23l65-116l25-37l20-26l15-16l20-16l15-10l20-8l20-2l20 3l16 8l18 15l16 19l20 29l15 27l20 43l30 75l35 107l30 107l30 121l155 661l90 425l87 441l11 45z"/>
<path fill="#002aff" d="M1252 3328h43l13-25l11-35l14-65l82-421l90-429l150-651l30-121l30-108l25-77l25-69l25-58l25-47l25-37l20-22l25-16l10-4l15-2l20 3l25 14l25 25l25 36l20 35l25 54l25 64l25 74l30 101l35 136l145 625l100 472l92 468l16 50l8 15l9 10l5 4l10 1l5-2l8-8l14-25l10-30l15-70l73-380l80-395l100-476l40-223l5-36l1-25l-1-5l-10 22l-20 60l-35 120l-30 113l-56 235l-79 356l-40 175l-20 78l-15 49l-20 52l-15 25l-7 5l-8 2l-5-2l-10-10l-15-30l-20-56l-20-71l-50-221l-72-342l-66-295l-85-350l-40-150l-35-120l-24-75l-26-70l-26-60l-23-45l-25-40l-23-28l-25-21l-25-12l-15-3h-15l-25 9l-15 9l-15 12l-29 34l-29 45l-30 60l-29 70l-26 75l-34 110l-41 145l-60 240l-70 300l-97 455l-60 264l-15 55l-20 58l-15 32l-10 11l-5 2l-8-2l-7-7l-15-28l-20-55l-20-72l-55-243l-62-295l-55-250l-75-315l-36-140l-45-160l-30-100l-34-95l-35-80l-21-40l-22-35l-25-30l-20-19l-20-12l-20-7l-20-1l-25 5l-25 13l-25 19l-25 27l-22 30l-24 40l-20 40l-18 45l-16 50l-12 45l-5 40l1 40l1 7l5 9h5l5-4l10-11l74-111l24-30l22-23l25-19l25-12l25-4l20 4l15 7l16 12l19 20l15 20l30 53l35 80l30 84l25 82l30 111l30 124l110 475l45 202l80 384l87 445l15 55z"/>
<path fill="#003eff" d="M1260 3328h27l3-3l13-22l15-45l15-70l77-400l95-457l139-618l31-125l28-105l25-80l27-75l25-60l25-50l25-39l25-29l25-18l10-4l15-3h10l15 3l25 13l25 23l29 39l28 50l24 55l25 65l26 75l34 120l37 145l127 568l105 500l77 402l16 70l9 30l8 17l10 13l10 5l10-3l10-10l9-17l9-25l15-65l77-410l120-605l30-170l2-40l-2-4l-15 38l-45 163l-30 125l-95 418l-25 99l-20 63l-20 50l-15 23l-7 5l-8 1l-5-1l-10-10l-15-27l-20-54l-20-68l-60-262l-73-339l-56-245l-96-386l-40-150l-30-104l-25-77l-25-68l-23-55l-22-43l-22-37l-24-30l-24-22l-25-13l-25-3l-15 3l-15 6l-26 19l-29 33l-27 42l-28 56l-27 64l-28 80l-36 115l-49 176l-87 349l-55 240l-83 384l-60 261l-20 67l-20 53l-15 24l-10 7l-5-1l-10-7l-15-27l-20-54l-15-50l-60-258l-63-294l-50-225l-101-415l-46-169l-40-136l-35-103l-36-87l-19-38l-20-34l-20-28l-20-23l-20-16l-20-10l-20-4l-20 2l-20 6l-25 15l-23 20l-22 26l-23 34l-22 40l-15 35l-15 45l-10 40l-4 30l3 20l6 4l10-6l10-11l67-82l18-18l20-16l25-13l20-6h25l20 6l15 9l20 18l30 40l32 60l34 80l26 75l24 80l26 95l29 120l154 685l85 411l82 424l10 40l10 30l8 17z"/>
<path fill="#0053ff" d="M1262 3323l8 5h5l5-1l10-9l14-25l13-45l88-450l95-462l137-628l31-130l29-105l26-85l25-70l25-60l28-55l27-40l27-30l25-17l25-8l25 3l15 6l15 10l28 26l29 40l26 45l30 65l30 75l29 85l36 125l30 125l47 241l91 424l79 385l88 455l14 55l8 18l10 14l10 5h5l10-7l12-20l10-30l16-70l72-390l46-235l44-235l15-88l5-52l-5 2l-5 13l-25 87l-105 447l-25 94l-20 61l-20 47l-15 22l-10 6h-5l-8-4l-7-7l-15-26l-25-66l-20-69l-60-262l-64-295l-56-237l-30-116l-62-222l-68-267l-35-121l-25-74l-20-53l-20-45l-20-37l-20-31l-24-27l-21-16l-20-9l-10-1h-15l-15 4l-13 7l-27 22l-25 30l-25 41l-25 51l-25 60l-30 84l-35 113l-45 161l-100 389l-57 244l-78 359l-60 257l-15 51l-20 54l-15 29l-10 10l-5 2l-8-2l-7-6l-15-25l-20-52l-20-67l-55-236l-62-289l-46-200l-37-155l-65-255l-45-169l-45-156l-35-106l-35-88l-35-70l-20-31l-16-20l-19-19l-15-11l-20-9l-20-3l-20 3l-21 9l-22 15l-22 22l-20 26l-19 32l-16 34l-11 31l-5 20l-2 20l2 10l6 3l15-10l58-53l17-12l20-10l20-6l20-2l20 3l20 9l17 13l18 19l32 46l36 70l33 85l22 65l24 80l50 200l158 725l75 366l83 429l9 40l9 30l9 20z"/>
<path fill="#0068ff" d="M1262 3318l8 4l10-1l13-13l14-30l11-40l92-478l80-393l90-422l52-267l45-190l21-70l24-70l36-90l19-40l20-35l20-30l16-20l17-17l20-15l15-7l20-4h15l20 5l15 8l16 10l22 20l32 33l5 4l5-1l-5-26l-10-28l-15-33l-15-26l-15-21l-16-17l-19-14l-15-7l-15-2l-10 1l-10 3l-15 7l-25 20l-25 31l-25 42l-20 41l-25 62l-25 72l-25 79l-65 227l-100 362l-62 256l-83 379l-35 153l-20 79l-15 49l-20 53l-15 28l-10 9l-5 2l-9-2l-6-5l-15-24l-20-51l-20-65l-60-256l-78-354l-67-277l-90-324l-70-244l-30-94l-30-82l-30-67l-30-51l-15-19l-16-17l-19-13l-15-7l-15-3l-20 2l-16 6l-19 12l-19 18l-16 20l-14 25l-8 20l-2 15l1 5l3 3h5l10-3l50-23l20-5l15-1l20 2l15 4l20 12l15 12l18 19l19 25l35 60l36 80l34 95l35 120l40 175l53 268l90 422l80 393l87 452l17 60l10 20zM2543 3303h7l5-2l13-18l10-25l10-40l127-682l20-125l3-33l-3-5l-35 129l-64 261l-26 91l-20 55l-20 41l-15 16l-6 2l-9-2l-5-3l-10-12l-15-29l-20-53l-20-66l-21-85l-94-422l-30-128l-45-171l-15-45l-5-5v15l5 35l15 81l141 695l82 435l9 40l11 30l8 15l4 5z"/>
<path fill="#007dff" d="M1262 3313l8 5l10-2l13-13l13-30l12-45l87-455l160-786l20-121l1-23l-1-9l-5 7l-5 11l-20 61l-45 170l-41 170l-69 313l-55 233l-20 66l-20 52l-15 27l-10 9l-5 1l-8-1l-7-5l-15-24l-20-50l-20-63l-25-100l-99-443l-51-212l-25-96l-20-69l-15-43l-5-11l-5 1l5 53l15 87l160 787l82 433l10 45l10 35l9 20zM2545 3298l10-3l12-17l10-25l11-45l107-594l10-64l1-22l-1-4l-5 12l-15 51l-53 206l-32 99l-15 37l-16 29l-14 14l-5 1l-10-1l-15-14l-15-28l-20-52l-20-65l-22-85l-103-450l-20-77l-15-44l-1 11l1 16l15 89l101 510l77 415l10 45l11 30l11 19zM648 1053h22l-1-5l-4-5l-7-5l-13-5l-15 1l-6 4l-3 5l4 5zM1877 1053l8 1l40-4l5-2v-5l-4-5l-11-5h-14l-13 5l-6 5l-4 5z"/>
<path fill="#0092ff" d="M1269 3313l6 1l5-2l10-9l5-8l13-32l10-40l82-435l135-679l20-115l2-26l-2-10l-10 23l-10 32l-45 169l-120 524l-25 101l-20 64l-20 51l-15 26l-5 5l-10 5h-5l-10-6l-15-23l-20-49l-20-62l-25-97l-125-546l-45-168l-15-43l-5-6v23l5 35l20 110l130 654l82 433l11 45l8 25l11 20zM2536 3288l9 5l5-1l10-7l11-22l12-40l59-325l33-211l1-24l-1-2l-5 14l-48 163l-32 86l-14 29l-11 16l-14 9l-11-1l-15-14l-15-26l-20-51l-18-53l-24-90l-53-224l-35-137l-2 1l2 30l15 91l52 269l75 410l17 70l7 20z"/>
<path fill="#00a7ff" d="M1266 3308l9 2l5-1l5-4l9-12l12-30l11-45l83-440l105-535l20-116l3-39l-3-4l-10 27l-35 128l-110 476l-25 99l-20 62l-20 51l-15 25l-6 6l-9 4l-10-3l-5-3l-15-22l-20-48l-20-61l-25-97l-110-476l-30-114l-10-32l-10-25l-2 12l2 22l20 119l110 561l77 413l11 45l8 25l9 18zM2545 3288h5l5-3l12-17l10-30l9-40l54-306l10-74l1-40l-1-3l-48 128l-22 49l-10 16l-10 10l-10 5l-10-1l-15-13l-12-21l-16-35l-20-55l-24-80l-43-171l-10-36l-3-3l-2-11v16l5 32l107 593l9 40l8 25l11 19z"/>
<path fill="#00bbff" d="M1264 3303l6 4l10-2l11-12l12-25l14-55l78-419l50-253l45-240l15-92l1-21l-1-8l-5 10l-10 31l-20 75l-100 427l-25 97l-20 62l-20 49l-15 25l-9 7l-6 2l-10-2l-5-4l-15-21l-20-47l-20-60l-26-98l-104-444l-25-90l-5-13l-5-5v12l5 39l15 87l90 467l78 417l16 65l8 20zM2543 3283h7l5-3l10-14l9-23l9-35l52-302l6-48v-30l-1-4l-5 6l-43 103l-17 33l-10 13l-10 7l-10 2l-5-2l-10-7l-9-11l-18-35l-25-65l-38-113l-3-2l-2-9v15l5 40l14 99l53 295l10 40l8 25l10 19z"/>
<path fill="#00d0ff" d="M1275 3304l5-2l9-9l6-10l11-30l11-45l77-420l56-288l35-203v-27l-10 28l-10 38l-98 407l-22 83l-20 60l-20 49l-15 24l-5 5l-10 4h-5l-10-6l-15-21l-20-46l-20-58l-26-94l-99-414l-15-52l-5-7v13l5 37l35 198l51 265l77 415l10 45l9 30l11 20l7 8zM2541 3278l9 1l5-3l6-8l11-25l9-35l12-60l33-200l7-55l2-30l-5-5l-5 8l-35 77l-17 30l-8 10l-10 7l-10 2l-5-2l-15-12l-15-25l-18-40l-32-82l-5-12l-5-5v28l9 71l48 270l16 65l9 20z"/>
<path fill="#00e5ff" d="M1265 3298l10 3l5-2l10-11l12-25l12-45l126-679l20-126l1-25l-1-2l-25 88l-68 279l-26 90l-21 61l-15 35l-15 23l-7 6l-8 3l-10-2l-5-4l-15-20l-20-45l-20-58l-26-94l-69-280l-25-85v16l5 37l15 94l46 243l77 420l10 45l9 30l8 18zM2540 3273l5 3l5-1l10-9l10-23l8-30l14-70l28-175l7-55v-25l-2-5l-5 6l-32 64l-15 25l-13 13l-10 5h-5l-8-3l-7-5l-15-20l-18-35l-27-65l-10-18l-3 13l3 35l46 275l17 70l7 17z"/>
<path fill="#00faff" d="M1263 3293l7 5h5l9-5l6-8l12-27l11-40l122-669l7-56l1-10l-3-5l-20 68l-58 232l-22 74l-20 56l-15 34l-15 23l-10 7l-5 2l-6-1l-9-5l-15-20l-15-32l-20-54l-27-89l-63-252l-15-46l-1 3l1 27l10 64l113 619l10 45l8 30l9 20zM2539 3268l6 4l5-1l10-9l8-19l9-30l14-75l24-150l6-45l1-30l-2-7l-5 4l-29 53l-16 23l-15 12l-10 2l-15-8l-15-19l-14-25l-26-58l-5-9l-5-3l-1 25l6 45l38 225l15 65l7 18z"/>
<path fill="#00ffef" d="M1266 3293l9 2l5-2l10-11l12-29l11-40l102-568l10-60l3-32l-3-4l-20 69l-42 165l-32 100l-16 41l-15 30l-15 18l-10 4l-10-2l-5-3l-14-18l-16-33l-16-42l-32-100l-42-166l-20-67l-1 18l6 43l103 577l9 45l11 35l9 20zM2545 3268l5-1l5-3l7-11l8-20l9-35l13-70l19-125l6-50l-1-25l-1-2l-5 3l-27 44l-13 18l-15 11l-10 1l-12-5l-13-13l-16-27l-24-47l-5-8l-5 1v21l5 40l37 223l8 35l8 25l7 12l5 6z"/>
<path fill="#00ffdb" d="M1263 3288l7 4l5 1l8-5l7-8l11-27l11-40l54-300l39-231l6-44l1-15l-2-3l-48 173l-31 95l-16 39l-15 30l-13 16l-12 6l-6-1l-9-5l-10-11l-15-27l-15-36l-32-96l-43-157l-10-29v1v22l5 32l38 231l50 275l17 75l10 24zM2542 3263l8 1l10-11l8-20l8-30l12-60l17-115l7-55v-25l-2-4l-5 2l-25 37l-15 17l-10 6l-10 1l-11-4l-14-14l-40-66l-5 6l3 39l30 190l9 45l8 31l10 22z"/>
<path fill="#00ffc6" d="M1266 3288l9 3l5-3l10-11l12-29l10-40l58-325l25-166v-24l-5 13l-38 127l-32 86l-13 29l-12 19l-10 10l-10 4l-10-2l-10-8l-10-14l-15-30l-32-84l-43-142l-3-3l-2-9v15l25 169l53 300l10 50l8 30l9 21zM2540 3258l5 3l5-1l7-7l8-15l9-30l12-65l14-90l7-55l1-30l-3-9l-5 3l-24 31l-10 10l-11 7l-10 1l-10-4l-15-14l-35-51l-3 1l-2 5l2 30l25 170l16 75l7 20z"/>
<path fill="#00ffb1" d="M1273 3288l7-2l5-4l8-14l9-25l10-40l53-300l15-102l3-38l-3-6l-42 121l-28 67l-18 28l-7 6l-10 4l-10-2l-10-8l-10-13l-10-19l-22-53l-48-134l-1 9l1 24l15 106l52 300l11 45l8 25l9 17l5 5zM2539 3253l6 4h5l5-4l10-19l8-26l10-50l12-81l7-59l2-35l-4-10l-5 2l-30 33l-10 5l-10 2l-10-4l-10-8l-35-45l-5 3v23l22 154l16 80l7 21z"/>
<path fill="#00ff9c" d="M1266 3283l9 3l5-2l9-11l9-20l10-35l14-70l43-250l10-77v-32l-10 19l-34 90l-21 50l-10 17l-10 13l-8 5l-7 3l-10-2l-8-6l-17-24l-21-46l-44-115h-3l-2 5l5 52l9 63l48 275l16 65l9 20zM2544 3253h6l10-12l7-18l8-30l10-60l10-70l5-45v-29l-5-4l-30 27l-10 5l-10 1l-15-6l-14-14l-16-21l-5-5l-5 1l-1 15l2 35l23 150l8 35l7 25l6 12z"/>
<path fill="#00ff87" d="M1269 3283l6 1l5-2l11-14l11-30l9-40l50-285l9-67v-32l-5 5l-5 10l-33 84l-18 40l-9 15l-10 12l-5 4l-10 4l-5-1l-10-4l-10-11l-9-14l-19-40l-37-93l-5-9l-3 2v30l8 60l48 280l9 40l8 26l10 21zM2545 3250l5-1l6-6l9-18l7-27l10-50l9-65l6-50v-30l-2-6l-5-1l-28 22l-7 3l-10 1l-15-6l-30-31l-5-1l-3 14l3 35l18 125l13 60l9 23z"/>
<path fill="#00ff72" d="M1265 3278l5 3l5 1l5-3l6-6l10-20l11-40l15-75l38-226l6-54l-1-25l-5 5l-5 10l-33 80l-17 34l-15 20l-9 6l-6 2l-10-2l-5-3l-15-17l-18-35l-37-88l-5-9h-5v22l9 70l43 250l17 70l6 16zM2540 3243l5 4l5-1l5-5l7-13l8-26l10-54l10-68l4-47v-20l-4-8l-5 1l-25 17l-15 3l-15-6l-25-23l-5-2l-4 8v20l14 110l15 77l6 18z"/>
<path fill="#00ff5e" d="M1268 3278l7 2l5-3l10-12l9-22l9-35l14-75l34-205l7-60v-10l-3-9l-10 17l-29 67l-16 32l-15 19l-5 4l-10 4h-5l-10-5l-15-17l-17-32l-33-75l-5-10l-5-4l-1 4l1 30l5 42l44 258l16 66l10 21zM2539 3238l6 5l5-1l5-4l7-15l8-25l16-95l5-50v-30l-1-5l-5-4l-25 14l-15 2l-15-6l-25-19l-5 4l-1 24l11 90l15 80l6 20z"/>
<path fill="#00ff49" d="M1264 3273l6 4l5 1l5-3l7-7l11-25l9-35l15-80l33-201l5-54l-1-5l-4-3l-10 18l-27 60l-13 24l-15 19l-10 7l-5 1l-7-1l-8-4l-15-16l-16-30l-34-73l-5-6l-2 4v25l6 50l39 230l16 70l6 16zM2543 3238l7 1l5-6l7-15l8-28l15-95l4-42l-1-20l-3-10l-5-1l-20 10l-15 2l-10-3l-25-16h-5l-3 13l1 25l12 96l15 67l5 13z"/>
<path fill="#00ff34" d="M1267 3273l8 3l5-3l8-10l11-25l8-35l14-75l29-176l6-49l-1-26l-5 3l-5 8l-28 60l-14 25l-13 15l-7 5l-8 3l-10-2l-5-3l-13-13l-15-25l-32-68l-5-7l-5 4v16l5 43l41 247l16 60l8 18zM2545 3236l5-1l5-5l7-17l7-25l7-40l7-55l3-35l-1-20l-5-8l-5 1l-20 7l-10 1l-10-3l-20-12l-5-1l-5 10v20l10 85l13 65l7 21z"/>
<path fill="#00ff1f" d="M1270 3273l5 1l5-3l10-13l9-25l9-35l14-80l28-175l4-40l-1-10l-3-4l-10 15l-21 44l-14 25l-15 18l-15 7h-5l-10-5l-11-10l-16-25l-33-66l-5-4l-1 5v25l6 45l37 225l15 60l8 16zM2540 3228l5 4l5-1l5-5l10-28l8-40l7-45l3-60l-3-12l-5-3l-20 5h-10l-30-12l-5 3l-2 19l5 65l12 70l7 25z"/>
<path fill="#00ff0a" d="M1265 3268l5 3l5 1l10-8l10-21l9-30l13-70l28-174l5-41v-27l-5 1l-5 7l-28 54l-12 19l-15 14l-10 4l-10-2l-15-12l-16-23l-24-48l-10-15l-4 8l2 30l6 50l33 195l13 56l8 19zM2539 3223l6 5l5-1l4-4l6-13l5-16l12-76l3-35v-25l-5-12l-5-1l-25 3l-25-8h-5l-4 13l2 50l12 78l6 22z"/>
<path fill="#0aff00" d="M1268 3268l7 2l5-3l10-14l8-20l8-35l16-85l23-153l3-37l-3-13l-10 13l-21 40l-13 20l-11 12l-15 7l-10-2l-15-12l-17-25l-23-43l-5-7l-5-2l-1 2v25l6 45l32 200l15 60l8 17zM2544 3223h6l5-6l10-30l10-64l3-35l-1-20l-2-11l-5-4l-25 1l-25-6l-5 5l-2 20l7 70l10 53l5 15l5 9z"/>
<path fill="#1fff00" d="M1264 3263l6 4l5 1l5-2l5-6l10-21l8-31l15-75l23-150l5-50l-1-10l-5-2l-40 65l-15 14l-10 3l-10-1l-15-12l-13-17l-27-48l-5-5l-3 8v25l7 50l28 175l13 55l8 20zM2543 3218h7l5-6l10-32l9-62l1-41l-4-14l-6-3h-20l-20-5l-5 3l-4 15l3 55l11 61l5 16l5 10z"/>
<path fill="#34ff00" d="M1270 3266h5l5-2l5-6l10-22l9-33l14-75l22-148l3-37l-3-13l-5 3l-5 8l-30 47l-15 14l-10 3l-10-1l-14-11l-12-15l-29-46l-5-1v2l-1 25l6 45l27 170l14 60l8 20zM2545 3215l5-2l5-6l8-24l7-45l2-50l-2-13l-5-7l-35-5l-5 2l-5 8l-1 20l1 25l10 64l5 18z"/>
<path fill="#49ff00" d="M1269 3263l6 1l5-2l9-14l9-25l8-35l15-85l17-120l3-35l-1-6l-5-2l-37 53l-13 11l-10 3l-10-1l-11-8l-17-20l-22-35l-5-4l-3 4l-1 15l4 39l28 181l15 60l7 15zM2545 3210l5-2l5-7l5-15l8-48l2-40l-2-10l-4-10l-9-4l-20-2h-5l-6 6l-2 15v20l8 62l5 19l5 11z"/>
<path fill="#5eff00" d="M1265 3258l5 4l5 1l5-3l5-6l9-21l9-30l13-75l19-127l3-38v-10l-3-6l-5 3l-22 33l-13 15l-10 8l-10 3l-10-1l-14-10l-12-15l-19-29l-5-5l-5-1l-2 15l2 25l24 165l15 70l7 20zM2544 3203h6l5-9l5-16l6-35l1-35l-2-13l-5-9l-10-4l-15-1l-5 2l-4 10l-1 32l5 38l4 20l6 16z"/>
<path fill="#72ff00" d="M1267 3258l8 3l5-3l5-6l10-23l9-36l14-80l17-120v-35l-5-2l-35 44l-10 8l-10 3l-10-2l-15-10l-30-40l-5-4l-4 8l4 57l24 153l14 60l7 16zM2541 3193l4 5l5-2l5-9l6-29l3-35l-1-15l-4-10l-4-5l-5-2l-10-1l-5 2l-5 7l-2 24l4 40l3 15z"/>
<path fill="#87ff00" d="M1269 3258l6 1l5-3l9-13l7-20l8-35l13-70l14-100l3-40l-1-10l-3-6l-5 3l-30 37l-10 8l-10 3l-10-2l-13-8l-32-39l-5-2l-2 6v20l4 40l22 145l15 60l6 14zM2545 3190l5-2l5-11l6-39l-3-25l-3-7l-10-5l-5 1l-5 4l-4 22l4 38l5 18z"/>
<path fill="#9cff00" d="M1265 3253l5 4h5l5-3l5-6l9-20l7-25l12-65l14-100l5-45l-2-23h-5l-24 28l-10 10l-16 7l-10-2l-10-6l-35-38l-5 5v24l4 40l19 125l13 60l8 20zM2545 3180l5-2l5-16l2-19l-2-18l-5-9l-5-2l-6 4l-3 10l-1 10l3 25l2 9z"/>
<path fill="#b1ff00" d="M1268 3253l7 2l5-2l5-7l10-23l8-35l13-75l13-95l1-35l-2-5l-3-3l-32 33l-8 6l-10 3l-10-2l-10-6l-30-32l-5-2l-3 8v20l3 34l20 131l14 60l6 15zM2545 3163l5-5l1-10l-1-7l-5-6l-3 13z"/>
<path fill="#c6ff00" d="M1270 3253l5 1l5-3l6-8l9-24l7-31l12-65l12-85l2-40v-10l-3-7l-5 2l-30 30l-15 6l-10-2l-10-6l-30-29l-5 1l-1 5v25l3 35l20 130l13 52l6 13z"/>
<path fill="#dbff00" d="M1270 3251l5 1l5-3l5-7l10-24l7-30l12-70l11-85l2-35l-2-9l-5-2l-30 28l-15 5l-10-1l-10-5l-25-24l-5-3l-4 6l-1 20l3 35l16 110l13 60l8 21z"/>
<path fill="#efff00" d="M1268 3248l7 2l5-3l5-7l9-22l8-35l13-75l9-75l1-32l-5-9l-5 3l-25 22l-15 5l-10-1l-10-5l-25-23h-5l-2 5l-1 20l3 35l17 115l13 57l5 12z"/>
<path fill="#fffa00" d="M1273 3248l7-3l10-17l14-55l11-70l7-60l2-30l-4-15h-5l-25 21l-15 5l-15-3l-30-23l-5 2l-1 3l-1 15l2 30l10 75l9 55l7 30l8 25l6 10z"/>
<path fill="#ffe500" d="M1270 3246l5 1l5-4l5-7l9-23l7-30l10-60l10-80v-35l-1-3l-5-3l-25 19l-15 5l-15-3l-25-19l-5-2l-5 8v23l3 30l14 100l12 55l6 15z"/>
<path fill="#ffd000" d="M1269 3243l6 2l5-3l5-8l8-21l8-35l10-60l9-74v-30l-5-7l-5 1l-20 15l-15 5l-15-3l-25-17l-5-1l-3 6l-1 20l3 35l14 100l12 50l5 13z"/>
<path fill="#ffbb00" d="M1265 3238l5 4l5 1l6-5l9-17l8-28l10-60l9-70l2-35l-1-10l-3-6h-5l-20 13l-15 5l-15-3l-25-16l-5 3l-1 4l-1 15l1 30l12 85l12 60l7 21z"/>
<path fill="#ffa700" d="M1270 3240l5 1l5-3l5-8l8-22l7-30l10-61l7-64v-30l-2-5l-5-2l-25 14l-10 2l-15-3l-20-12l-5-1l-5 7v40l14 100l11 50l5 14z"/>
<path fill="#ff9200" d="M1269 3238l6 1l5-3l5-8l7-20l8-35l10-61l6-54l-1-30l-1-5l-4-3l-25 12l-10 3l-15-3l-20-12h-5l-4 8l-1 15l3 35l12 88l11 47l6 15z"/>
<path fill="#ff7d00" d="M1270 3237h5l6-4l9-20l7-25l9-50l8-70l1-30l-5-13l-5-1l-20 11l-10 2l-10-1l-25-12l-5 2l-2 7l-1 15l2 30l10 80l11 50l5 15z"/>
<path fill="#ff6800" d="M1268 3233l7 2l5-3l5-8l7-21l8-35l10-69l3-41l-2-25l-1-3l-5-2l-20 9l-10 2l-10-1l-25-10l-5 5l-1 5l1 45l10 75l10 47l5 15z"/>
<path fill="#ff5300" d="M1271 3233l4 1l5-4l5-8l8-24l7-35l8-55l4-45l-1-25l-6-6l-30 9l-10-1l-20-8h-5l-5 11v20l2 30l11 80l12 45l5 10z"/>
<path fill="#ff3e00" d="M1270 3231l5 1l8-9l7-17l7-28l8-51l5-49v-30l-5-12h-5l-25 8l-10-1l-20-7l-5 1l-4 11l1 40l8 65l10 47l5 16z"/>
<path fill="#ff2a00" d="M1269 3228l6 2l5-4l5-9l8-24l7-37l6-48l4-45l-4-20l-6-3l-25 6l-30-6l-5 3l-1 5l-2 15l1 25l9 70l11 50l7 16z"/>
<path fill="#ff1500" d="M1270 3227l5 1l5-5l10-23l6-27l9-58l3-42l-1-20l-2-6l-5-4l-25 6l-30-5l-5 9l-1 35l6 55l10 51l5 17z"/>
<path fill="#ff0000" d="M1268 3223l7 3l7-8l8-20l6-25l6-45l5-45l-1-25l-1-5l-5-5l-25 3l-25-4l-5 2l-4 9v35l8 70l11 45z"/>
<path fill="#ff0000" d="M1272 3223h3l5-4l6-11l8-30l6-36l5-48v-26l-4-15l-6-2l-20 3l-25-3l-5 3l-3 9v40l8 60l10 43l5 11z"/>
</g></g>
<path d="M528.91 743.2v-4M528.91 410.6v4M554.12 743.2v-4M554.12 410.6v4M579.33 743.2v-4M579.33 410.6v4M604.54 743.2v-4M604.54 410.6v4M629.75 743.2v-6.1M629.75 410.6v6.1M654.96 743.2v-4M654.96 410.6v4M680.17 743.2v-4M680.17 410.6v4M705.38 743.2v-4M705.38 410.6v4M730.59 743.2v-4M730.59 410.6v4M755.8 743.2v-6.1M755.8 410.6v6.1M781.01 743.2v-4M781.01 410.6v4M806.22 743.2v-4M806.22 410.6v4M831.43 743.2v-4M831.43 410.6v4M856.64 743.2v-4M856.64 410.6v4M503.7 732.11h4M878.4 732.11h-4M503.7 721.01h4M878.4 721.01h-4M503.7 709.92h4M878.4 709.92h-4M503.7 698.83h4M878.4 698.83h-4M503.7 687.74h6.1M878.4 687.74h-6.1M503.7 676.64h4M878.4 676.64h-4M503.7 665.55h4M878.4 665.55h-4M503.7 654.46h4M878.4 654.46h-4M503.7 643.36h4M878.4 643.36h-4M503.7 632.27h6.1M878.4 632.27h-6.1M503.7 621.18h4M878.4 621.18h-4M503.7 610.08h4M878.4 610.08h-4M503.7 598.99h4M878.4 598.99h-4M503.7 587.9h4M878.4 587.9h-4M503.7 576.81h6.1M878.4 576.81h-6.1M503.7 565.71h4M878.4 565.71h-4M503.7 554.62h4M878.4 554.62h-4M503.7 543.53h4M878.4 543.53h-4M503.7 532.43h4M878.4 532.43h-4M503.7 521.34h6.1M878.4 521.34h-6.1M503.7 510.25h4M878.4 510.25h-4M503.7 499.15h4M878.4 499.15h-4M503.7 488.06h4M878.4 488.06h-4M503.7 476.97h4M878.4 476.97h-4M503.7 465.88h6.1M878.4 465.88h-6.1M503.7 454.78h4M878.4 454.78h-4M503.7 443.69h4M878.4 443.69h-4M503.7 432.6h4M878.4 432.6h-4M503.7 421.5h4M878.4 421.5h-4" stroke="#000" stroke-width="1.25" fill="none"/>
<rect x="503.55" y="410.45" width="375" height="332.9" fill="none" stroke="#000" stroke-width="1.3"/>
<text x="503.4" y="761.5" text-anchor="middle" class="t">0.00</text>
<text x="629.45" y="761.5" text-anchor="middle" class="t">0.33</text>
<text x="755.5" y="761.5" text-anchor="middle" class="t">0.66</text>
<text x="690.95" y="782.1" text-anchor="middle" class="a">hh0</text>
<text x="664.6" y="461.4" class="S">S</text>
<text x="695.5" y="436.8" class="sup" textLength="27" lengthAdjust="spacingAndGlyphs">zz</text>
</g>
<g shape-rendering="crispEdges">
<rect x="902.5" y="574.39" width="40" height="7.11" fill="#0000ff"/>
<rect x="902.5" y="567.87" width="40" height="7.11" fill="#0000ff"/>
<rect x="902.5" y="561.36" width="40" height="7.11" fill="#0015ff"/>
<rect x="902.5" y="554.85" width="40" height="7.11" fill="#002aff"/>
<rect x="902.5" y="548.33" width="40" height="7.11" fill="#003eff"/>
<rect x="902.5" y="541.82" width="40" height="7.11" fill="#0053ff"/>
<rect x="902.5" y="535.31" width="40" height="7.11" fill="#0068ff"/>
<rect x="902.5" y="528.79" width="40" height="7.11" fill="#007dff"/>
<rect x="902.5" y="522.28" width="40" height="7.11" fill="#0092ff"/>
<rect x="902.5" y="515.77" width="40" height="7.11" fill="#00a7ff"/>
<rect x="902.5" y="509.25" width="40" height="7.11" fill="#00bbff"/>
<rect x="902.5" y="502.74" width="40" height="7.11" fill="#00d0ff"/>
<rect x="902.5" y="496.23" width="40" height="7.11" fill="#00e5ff"/>
<rect x="902.5" y="489.71" width="40" height="7.11" fill="#00faff"/>
<rect x="902.5" y="483.2" width="40" height="7.11" fill="#00ffef"/>
<rect x="902.5" y="476.68" width="40" height="7.11" fill="#00ffdb"/>
<rect x="902.5" y="470.17" width="40" height="7.11" fill="#00ffc6"/>
<rect x="902.5" y="463.66" width="40" height="7.11" fill="#00ffb1"/>
<rect x="902.5" y="457.14" width="40" height="7.11" fill="#00ff9c"/>
<rect x="902.5" y="450.63" width="40" height="7.11" fill="#00ff87"/>
<rect x="902.5" y="444.12" width="40" height="7.11" fill="#00ff72"/>
<rect x="902.5" y="437.6" width="40" height="7.11" fill="#00ff5e"/>
<rect x="902.5" y="431.09" width="40" height="7.11" fill="#00ff49"/>
<rect x="902.5" y="424.58" width="40" height="7.11" fill="#00ff34"/>
<rect x="902.5" y="418.06" width="40" height="7.11" fill="#00ff1f"/>
<rect x="902.5" y="411.55" width="40" height="7.11" fill="#00ff0a"/>
<rect x="902.5" y="405.04" width="40" height="7.11" fill="#0aff00"/>
<rect x="902.5" y="398.52" width="40" height="7.11" fill="#1fff00"/>
<rect x="902.5" y="392.01" width="40" height="7.11" fill="#34ff00"/>
<rect x="902.5" y="385.5" width="40" height="7.11" fill="#49ff00"/>
<rect x="902.5" y="378.98" width="40" height="7.11" fill="#5eff00"/>
<rect x="902.5" y="372.47" width="40" height="7.11" fill="#72ff00"/>
<rect x="902.5" y="365.96" width="40" height="7.11" fill="#87ff00"/>
<rect x="902.5" y="359.44" width="40" height="7.11" fill="#9cff00"/>
<rect x="902.5" y="352.93" width="40" height="7.11" fill="#b1ff00"/>
<rect x="902.5" y="346.42" width="40" height="7.11" fill="#c6ff00"/>
<rect x="902.5" y="339.9" width="40" height="7.11" fill="#dbff00"/>
<rect x="902.5" y="333.39" width="40" height="7.11" fill="#efff00"/>
<rect x="902.5" y="326.88" width="40" height="7.11" fill="#fffa00"/>
<rect x="902.5" y="320.36" width="40" height="7.11" fill="#ffe500"/>
<rect x="902.5" y="313.85" width="40" height="7.11" fill="#ffd000"/>
<rect x="902.5" y="307.33" width="40" height="7.11" fill="#ffbb00"/>
<rect x="902.5" y="300.82" width="40" height="7.11" fill="#ffa700"/>
<rect x="902.5" y="294.31" width="40" height="7.11" fill="#ff9200"/>
<rect x="902.5" y="287.79" width="40" height="7.11" fill="#ff7d00"/>
<rect x="902.5" y="281.28" width="40" height="7.11" fill="#ff6800"/>
<rect x="902.5" y="274.77" width="40" height="7.11" fill="#ff5300"/>
<rect x="902.5" y="268.25" width="40" height="7.11" fill="#ff3e00"/>
<rect x="902.5" y="261.74" width="40" height="7.11" fill="#ff2a00"/>
<rect x="902.5" y="255.23" width="40" height="7.11" fill="#ff1500"/>
<rect x="902.5" y="248.71" width="40" height="7.11" fill="#ff0000"/>
<rect x="902.5" y="242.2" width="40" height="7.11" fill="#ff0000"/>
</g>
<text x="947.8" y="581" class="c">0</text>
<text x="947.8" y="515.9" class="c">10.00</text>
<text x="947.8" y="450.8" class="c">20.00</text>
<text x="947.8" y="385.7" class="c">30.00</text>
<text x="947.8" y="320.6" class="c">40.00</text>
<text x="947.8" y="255.5" class="c">50.00</text>
</svg></body></html>
